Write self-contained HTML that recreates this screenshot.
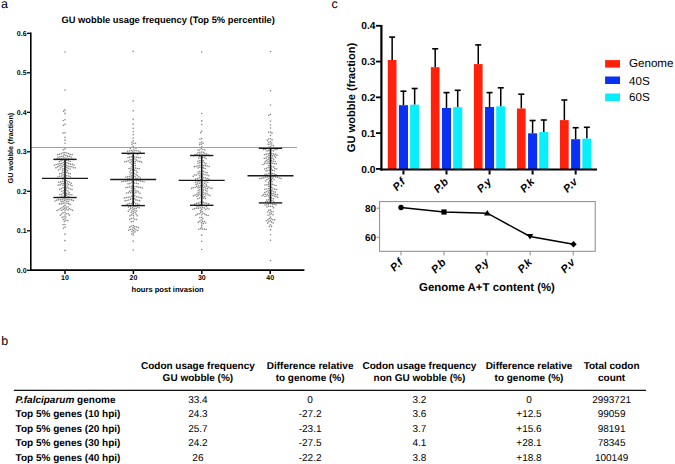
<!DOCTYPE html>
<html><head><meta charset="utf-8"><style>
html,body{margin:0;padding:0;background:#fff;width:675px;height:464px;overflow:hidden;}
svg{display:block;font-family:"Liberation Sans",sans-serif;text-rendering:geometricPrecision;}
</style></head><body>
<svg width="675" height="464" viewBox="0 0 675 464" font-family="Liberation Sans, sans-serif"><text x="1" y="8" font-size="12.5" text-anchor="start" fill="#000">a</text>
<text x="168.2" y="23.0" font-size="9.33" font-weight="bold" text-anchor="middle" fill="#000">GU wobble usage frequency (Top 5% percentile)</text>
<path d="M64.20 51.96a0.8 0.8 0 1 0 1.6 0a0.8 0.8 0 1 0 -1.6 0M64.20 90.05a0.8 0.8 0 1 0 1.6 0a0.8 0.8 0 1 0 -1.6 0M64.20 109.84a0.8 0.8 0 1 0 1.6 0a0.8 0.8 0 1 0 -1.6 0M62.85 111.17a0.8 0.8 0 1 0 1.6 0a0.8 0.8 0 1 0 -1.6 0M64.20 113.41a0.8 0.8 0 1 0 1.6 0a0.8 0.8 0 1 0 -1.6 0M64.20 119.77a0.8 0.8 0 1 0 1.6 0a0.8 0.8 0 1 0 -1.6 0M62.43 120.45a0.8 0.8 0 1 0 1.6 0a0.8 0.8 0 1 0 -1.6 0M64.20 124.31a0.8 0.8 0 1 0 1.6 0a0.8 0.8 0 1 0 -1.6 0M62.58 125.30a0.8 0.8 0 1 0 1.6 0a0.8 0.8 0 1 0 -1.6 0M64.20 132.83a0.8 0.8 0 1 0 1.6 0a0.8 0.8 0 1 0 -1.6 0M62.32 133.08a0.8 0.8 0 1 0 1.6 0a0.8 0.8 0 1 0 -1.6 0M64.20 137.34a0.8 0.8 0 1 0 1.6 0a0.8 0.8 0 1 0 -1.6 0M64.20 140.17a0.8 0.8 0 1 0 1.6 0a0.8 0.8 0 1 0 -1.6 0M64.20 143.25a0.8 0.8 0 1 0 1.6 0a0.8 0.8 0 1 0 -1.6 0M64.20 148.88a0.8 0.8 0 1 0 1.6 0a0.8 0.8 0 1 0 -1.6 0M62.48 149.69a0.8 0.8 0 1 0 1.6 0a0.8 0.8 0 1 0 -1.6 0M64.20 152.56a0.8 0.8 0 1 0 1.6 0a0.8 0.8 0 1 0 -1.6 0M62.31 152.74a0.8 0.8 0 1 0 1.6 0a0.8 0.8 0 1 0 -1.6 0M66.03 153.06a0.8 0.8 0 1 0 1.6 0a0.8 0.8 0 1 0 -1.6 0M60.59 153.56a0.8 0.8 0 1 0 1.6 0a0.8 0.8 0 1 0 -1.6 0M67.86 153.58a0.8 0.8 0 1 0 1.6 0a0.8 0.8 0 1 0 -1.6 0M58.81 154.22a0.8 0.8 0 1 0 1.6 0a0.8 0.8 0 1 0 -1.6 0M63.41 154.29a0.8 0.8 0 1 0 1.6 0a0.8 0.8 0 1 0 -1.6 0M69.50 154.54a0.8 0.8 0 1 0 1.6 0a0.8 0.8 0 1 0 -1.6 0M71.40 154.55a0.8 0.8 0 1 0 1.6 0a0.8 0.8 0 1 0 -1.6 0M56.97 154.67a0.8 0.8 0 1 0 1.6 0a0.8 0.8 0 1 0 -1.6 0M64.93 155.43a0.8 0.8 0 1 0 1.6 0a0.8 0.8 0 1 0 -1.6 0M62.82 156.09a0.8 0.8 0 1 0 1.6 0a0.8 0.8 0 1 0 -1.6 0M66.68 156.16a0.8 0.8 0 1 0 1.6 0a0.8 0.8 0 1 0 -1.6 0M60.92 156.22a0.8 0.8 0 1 0 1.6 0a0.8 0.8 0 1 0 -1.6 0M68.57 156.38a0.8 0.8 0 1 0 1.6 0a0.8 0.8 0 1 0 -1.6 0M59.11 156.79a0.8 0.8 0 1 0 1.6 0a0.8 0.8 0 1 0 -1.6 0M70.36 157.02a0.8 0.8 0 1 0 1.6 0a0.8 0.8 0 1 0 -1.6 0M57.25 157.18a0.8 0.8 0 1 0 1.6 0a0.8 0.8 0 1 0 -1.6 0M64.20 158.15a0.8 0.8 0 1 0 1.6 0a0.8 0.8 0 1 0 -1.6 0M62.30 158.16a0.8 0.8 0 1 0 1.6 0a0.8 0.8 0 1 0 -1.6 0M66.10 158.19a0.8 0.8 0 1 0 1.6 0a0.8 0.8 0 1 0 -1.6 0M60.44 158.57a0.8 0.8 0 1 0 1.6 0a0.8 0.8 0 1 0 -1.6 0M67.95 158.64a0.8 0.8 0 1 0 1.6 0a0.8 0.8 0 1 0 -1.6 0M58.55 158.77a0.8 0.8 0 1 0 1.6 0a0.8 0.8 0 1 0 -1.6 0M71.06 158.78a0.8 0.8 0 1 0 1.6 0a0.8 0.8 0 1 0 -1.6 0M56.37 158.87a0.8 0.8 0 1 0 1.6 0a0.8 0.8 0 1 0 -1.6 0M72.85 159.42a0.8 0.8 0 1 0 1.6 0a0.8 0.8 0 1 0 -1.6 0M54.60 159.55a0.8 0.8 0 1 0 1.6 0a0.8 0.8 0 1 0 -1.6 0M63.93 160.03a0.8 0.8 0 1 0 1.6 0a0.8 0.8 0 1 0 -1.6 0M62.03 160.06a0.8 0.8 0 1 0 1.6 0a0.8 0.8 0 1 0 -1.6 0M65.82 160.19a0.8 0.8 0 1 0 1.6 0a0.8 0.8 0 1 0 -1.6 0M67.63 160.77a0.8 0.8 0 1 0 1.6 0a0.8 0.8 0 1 0 -1.6 0M60.29 160.84a0.8 0.8 0 1 0 1.6 0a0.8 0.8 0 1 0 -1.6 0M69.41 161.44a0.8 0.8 0 1 0 1.6 0a0.8 0.8 0 1 0 -1.6 0M58.50 161.47a0.8 0.8 0 1 0 1.6 0a0.8 0.8 0 1 0 -1.6 0M64.38 161.87a0.8 0.8 0 1 0 1.6 0a0.8 0.8 0 1 0 -1.6 0M62.59 162.51a0.8 0.8 0 1 0 1.6 0a0.8 0.8 0 1 0 -1.6 0M66.11 162.66a0.8 0.8 0 1 0 1.6 0a0.8 0.8 0 1 0 -1.6 0M60.96 163.49a0.8 0.8 0 1 0 1.6 0a0.8 0.8 0 1 0 -1.6 0M67.80 163.53a0.8 0.8 0 1 0 1.6 0a0.8 0.8 0 1 0 -1.6 0M59.07 163.59a0.8 0.8 0 1 0 1.6 0a0.8 0.8 0 1 0 -1.6 0M64.20 163.83a0.8 0.8 0 1 0 1.6 0a0.8 0.8 0 1 0 -1.6 0M69.59 164.15a0.8 0.8 0 1 0 1.6 0a0.8 0.8 0 1 0 -1.6 0M57.26 164.17a0.8 0.8 0 1 0 1.6 0a0.8 0.8 0 1 0 -1.6 0M71.49 164.19a0.8 0.8 0 1 0 1.6 0a0.8 0.8 0 1 0 -1.6 0M55.38 164.46a0.8 0.8 0 1 0 1.6 0a0.8 0.8 0 1 0 -1.6 0M62.57 164.80a0.8 0.8 0 1 0 1.6 0a0.8 0.8 0 1 0 -1.6 0M65.64 165.07a0.8 0.8 0 1 0 1.6 0a0.8 0.8 0 1 0 -1.6 0M73.15 165.11a0.8 0.8 0 1 0 1.6 0a0.8 0.8 0 1 0 -1.6 0M60.17 165.21a0.8 0.8 0 1 0 1.6 0a0.8 0.8 0 1 0 -1.6 0M53.64 165.23a0.8 0.8 0 1 0 1.6 0a0.8 0.8 0 1 0 -1.6 0M67.33 165.93a0.8 0.8 0 1 0 1.6 0a0.8 0.8 0 1 0 -1.6 0M58.43 165.99a0.8 0.8 0 1 0 1.6 0a0.8 0.8 0 1 0 -1.6 0M64.20 166.39a0.8 0.8 0 1 0 1.6 0a0.8 0.8 0 1 0 -1.6 0M61.83 166.55a0.8 0.8 0 1 0 1.6 0a0.8 0.8 0 1 0 -1.6 0M69.11 166.60a0.8 0.8 0 1 0 1.6 0a0.8 0.8 0 1 0 -1.6 0M71.00 166.76a0.8 0.8 0 1 0 1.6 0a0.8 0.8 0 1 0 -1.6 0M56.77 166.90a0.8 0.8 0 1 0 1.6 0a0.8 0.8 0 1 0 -1.6 0M65.90 167.25a0.8 0.8 0 1 0 1.6 0a0.8 0.8 0 1 0 -1.6 0M60.09 167.31a0.8 0.8 0 1 0 1.6 0a0.8 0.8 0 1 0 -1.6 0M72.59 167.81a0.8 0.8 0 1 0 1.6 0a0.8 0.8 0 1 0 -1.6 0M55.11 167.84a0.8 0.8 0 1 0 1.6 0a0.8 0.8 0 1 0 -1.6 0M74.49 167.84a0.8 0.8 0 1 0 1.6 0a0.8 0.8 0 1 0 -1.6 0M63.70 168.22a0.8 0.8 0 1 0 1.6 0a0.8 0.8 0 1 0 -1.6 0M67.47 168.32a0.8 0.8 0 1 0 1.6 0a0.8 0.8 0 1 0 -1.6 0M61.87 168.72a0.8 0.8 0 1 0 1.6 0a0.8 0.8 0 1 0 -1.6 0M69.26 168.93a0.8 0.8 0 1 0 1.6 0a0.8 0.8 0 1 0 -1.6 0M59.35 169.06a0.8 0.8 0 1 0 1.6 0a0.8 0.8 0 1 0 -1.6 0M65.17 169.42a0.8 0.8 0 1 0 1.6 0a0.8 0.8 0 1 0 -1.6 0M57.67 169.93a0.8 0.8 0 1 0 1.6 0a0.8 0.8 0 1 0 -1.6 0M63.40 170.10a0.8 0.8 0 1 0 1.6 0a0.8 0.8 0 1 0 -1.6 0M66.69 170.56a0.8 0.8 0 1 0 1.6 0a0.8 0.8 0 1 0 -1.6 0M61.61 170.73a0.8 0.8 0 1 0 1.6 0a0.8 0.8 0 1 0 -1.6 0M64.20 172.09a0.8 0.8 0 1 0 1.6 0a0.8 0.8 0 1 0 -1.6 0M66.08 172.40a0.8 0.8 0 1 0 1.6 0a0.8 0.8 0 1 0 -1.6 0M62.35 172.54a0.8 0.8 0 1 0 1.6 0a0.8 0.8 0 1 0 -1.6 0M67.79 173.22a0.8 0.8 0 1 0 1.6 0a0.8 0.8 0 1 0 -1.6 0M60.76 173.58a0.8 0.8 0 1 0 1.6 0a0.8 0.8 0 1 0 -1.6 0M58.87 173.72a0.8 0.8 0 1 0 1.6 0a0.8 0.8 0 1 0 -1.6 0M69.58 173.86a0.8 0.8 0 1 0 1.6 0a0.8 0.8 0 1 0 -1.6 0M64.20 174.80a0.8 0.8 0 1 0 1.6 0a0.8 0.8 0 1 0 -1.6 0M62.30 174.83a0.8 0.8 0 1 0 1.6 0a0.8 0.8 0 1 0 -1.6 0M65.87 175.71a0.8 0.8 0 1 0 1.6 0a0.8 0.8 0 1 0 -1.6 0M60.76 175.95a0.8 0.8 0 1 0 1.6 0a0.8 0.8 0 1 0 -1.6 0M67.74 176.03a0.8 0.8 0 1 0 1.6 0a0.8 0.8 0 1 0 -1.6 0M58.90 176.29a0.8 0.8 0 1 0 1.6 0a0.8 0.8 0 1 0 -1.6 0M63.32 176.48a0.8 0.8 0 1 0 1.6 0a0.8 0.8 0 1 0 -1.6 0M69.48 176.79a0.8 0.8 0 1 0 1.6 0a0.8 0.8 0 1 0 -1.6 0M57.16 177.07a0.8 0.8 0 1 0 1.6 0a0.8 0.8 0 1 0 -1.6 0M64.84 177.63a0.8 0.8 0 1 0 1.6 0a0.8 0.8 0 1 0 -1.6 0M61.86 177.70a0.8 0.8 0 1 0 1.6 0a0.8 0.8 0 1 0 -1.6 0M66.56 178.44a0.8 0.8 0 1 0 1.6 0a0.8 0.8 0 1 0 -1.6 0M63.99 179.33a0.8 0.8 0 1 0 1.6 0a0.8 0.8 0 1 0 -1.6 0M62.14 179.76a0.8 0.8 0 1 0 1.6 0a0.8 0.8 0 1 0 -1.6 0M65.43 180.57a0.8 0.8 0 1 0 1.6 0a0.8 0.8 0 1 0 -1.6 0M63.57 181.18a0.8 0.8 0 1 0 1.6 0a0.8 0.8 0 1 0 -1.6 0M67.23 181.19a0.8 0.8 0 1 0 1.6 0a0.8 0.8 0 1 0 -1.6 0M61.76 181.78a0.8 0.8 0 1 0 1.6 0a0.8 0.8 0 1 0 -1.6 0M59.86 181.89a0.8 0.8 0 1 0 1.6 0a0.8 0.8 0 1 0 -1.6 0M68.79 182.26a0.8 0.8 0 1 0 1.6 0a0.8 0.8 0 1 0 -1.6 0M58.02 182.34a0.8 0.8 0 1 0 1.6 0a0.8 0.8 0 1 0 -1.6 0M64.39 182.90a0.8 0.8 0 1 0 1.6 0a0.8 0.8 0 1 0 -1.6 0M66.27 183.12a0.8 0.8 0 1 0 1.6 0a0.8 0.8 0 1 0 -1.6 0M70.43 183.22a0.8 0.8 0 1 0 1.6 0a0.8 0.8 0 1 0 -1.6 0M62.67 183.72a0.8 0.8 0 1 0 1.6 0a0.8 0.8 0 1 0 -1.6 0M60.77 183.78a0.8 0.8 0 1 0 1.6 0a0.8 0.8 0 1 0 -1.6 0M67.66 184.42a0.8 0.8 0 1 0 1.6 0a0.8 0.8 0 1 0 -1.6 0M64.89 184.73a0.8 0.8 0 1 0 1.6 0a0.8 0.8 0 1 0 -1.6 0M59.25 184.92a0.8 0.8 0 1 0 1.6 0a0.8 0.8 0 1 0 -1.6 0M69.47 184.99a0.8 0.8 0 1 0 1.6 0a0.8 0.8 0 1 0 -1.6 0M57.36 185.08a0.8 0.8 0 1 0 1.6 0a0.8 0.8 0 1 0 -1.6 0M62.15 185.55a0.8 0.8 0 1 0 1.6 0a0.8 0.8 0 1 0 -1.6 0M71.24 185.68a0.8 0.8 0 1 0 1.6 0a0.8 0.8 0 1 0 -1.6 0M66.36 185.94a0.8 0.8 0 1 0 1.6 0a0.8 0.8 0 1 0 -1.6 0M64.20 187.27a0.8 0.8 0 1 0 1.6 0a0.8 0.8 0 1 0 -1.6 0M62.35 187.71a0.8 0.8 0 1 0 1.6 0a0.8 0.8 0 1 0 -1.6 0M66.00 187.88a0.8 0.8 0 1 0 1.6 0a0.8 0.8 0 1 0 -1.6 0M67.89 188.03a0.8 0.8 0 1 0 1.6 0a0.8 0.8 0 1 0 -1.6 0M60.68 188.61a0.8 0.8 0 1 0 1.6 0a0.8 0.8 0 1 0 -1.6 0M69.48 189.08a0.8 0.8 0 1 0 1.6 0a0.8 0.8 0 1 0 -1.6 0M63.89 189.14a0.8 0.8 0 1 0 1.6 0a0.8 0.8 0 1 0 -1.6 0M58.94 189.38a0.8 0.8 0 1 0 1.6 0a0.8 0.8 0 1 0 -1.6 0M71.33 189.49a0.8 0.8 0 1 0 1.6 0a0.8 0.8 0 1 0 -1.6 0M65.36 190.35a0.8 0.8 0 1 0 1.6 0a0.8 0.8 0 1 0 -1.6 0M62.85 190.73a0.8 0.8 0 1 0 1.6 0a0.8 0.8 0 1 0 -1.6 0M67.14 191.02a0.8 0.8 0 1 0 1.6 0a0.8 0.8 0 1 0 -1.6 0M61.03 191.29a0.8 0.8 0 1 0 1.6 0a0.8 0.8 0 1 0 -1.6 0M64.20 192.14a0.8 0.8 0 1 0 1.6 0a0.8 0.8 0 1 0 -1.6 0M68.40 192.44a0.8 0.8 0 1 0 1.6 0a0.8 0.8 0 1 0 -1.6 0M62.56 193.10a0.8 0.8 0 1 0 1.6 0a0.8 0.8 0 1 0 -1.6 0M65.65 193.37a0.8 0.8 0 1 0 1.6 0a0.8 0.8 0 1 0 -1.6 0M67.39 194.13a0.8 0.8 0 1 0 1.6 0a0.8 0.8 0 1 0 -1.6 0M61.04 194.24a0.8 0.8 0 1 0 1.6 0a0.8 0.8 0 1 0 -1.6 0M64.07 194.43a0.8 0.8 0 1 0 1.6 0a0.8 0.8 0 1 0 -1.6 0M59.15 194.46a0.8 0.8 0 1 0 1.6 0a0.8 0.8 0 1 0 -1.6 0M69.20 194.70a0.8 0.8 0 1 0 1.6 0a0.8 0.8 0 1 0 -1.6 0M71.10 194.79a0.8 0.8 0 1 0 1.6 0a0.8 0.8 0 1 0 -1.6 0M65.73 195.35a0.8 0.8 0 1 0 1.6 0a0.8 0.8 0 1 0 -1.6 0M63.11 196.07a0.8 0.8 0 1 0 1.6 0a0.8 0.8 0 1 0 -1.6 0M61.21 196.19a0.8 0.8 0 1 0 1.6 0a0.8 0.8 0 1 0 -1.6 0M67.26 196.47a0.8 0.8 0 1 0 1.6 0a0.8 0.8 0 1 0 -1.6 0M64.58 197.28a0.8 0.8 0 1 0 1.6 0a0.8 0.8 0 1 0 -1.6 0M59.72 197.36a0.8 0.8 0 1 0 1.6 0a0.8 0.8 0 1 0 -1.6 0M68.94 197.36a0.8 0.8 0 1 0 1.6 0a0.8 0.8 0 1 0 -1.6 0M57.84 197.69a0.8 0.8 0 1 0 1.6 0a0.8 0.8 0 1 0 -1.6 0M63.38 198.75a0.8 0.8 0 1 0 1.6 0a0.8 0.8 0 1 0 -1.6 0M65.22 199.20a0.8 0.8 0 1 0 1.6 0a0.8 0.8 0 1 0 -1.6 0M61.66 199.57a0.8 0.8 0 1 0 1.6 0a0.8 0.8 0 1 0 -1.6 0M67.08 199.62a0.8 0.8 0 1 0 1.6 0a0.8 0.8 0 1 0 -1.6 0M59.77 199.78a0.8 0.8 0 1 0 1.6 0a0.8 0.8 0 1 0 -1.6 0M68.97 199.78a0.8 0.8 0 1 0 1.6 0a0.8 0.8 0 1 0 -1.6 0M57.87 199.84a0.8 0.8 0 1 0 1.6 0a0.8 0.8 0 1 0 -1.6 0M70.87 199.88a0.8 0.8 0 1 0 1.6 0a0.8 0.8 0 1 0 -1.6 0M56.00 200.16a0.8 0.8 0 1 0 1.6 0a0.8 0.8 0 1 0 -1.6 0M63.93 200.59a0.8 0.8 0 1 0 1.6 0a0.8 0.8 0 1 0 -1.6 0M72.62 200.60a0.8 0.8 0 1 0 1.6 0a0.8 0.8 0 1 0 -1.6 0M54.30 201.01a0.8 0.8 0 1 0 1.6 0a0.8 0.8 0 1 0 -1.6 0M65.69 201.30a0.8 0.8 0 1 0 1.6 0a0.8 0.8 0 1 0 -1.6 0M62.21 201.39a0.8 0.8 0 1 0 1.6 0a0.8 0.8 0 1 0 -1.6 0M67.59 201.47a0.8 0.8 0 1 0 1.6 0a0.8 0.8 0 1 0 -1.6 0M60.32 201.63a0.8 0.8 0 1 0 1.6 0a0.8 0.8 0 1 0 -1.6 0M64.20 203.08a0.8 0.8 0 1 0 1.6 0a0.8 0.8 0 1 0 -1.6 0M66.10 203.20a0.8 0.8 0 1 0 1.6 0a0.8 0.8 0 1 0 -1.6 0M62.32 203.38a0.8 0.8 0 1 0 1.6 0a0.8 0.8 0 1 0 -1.6 0M67.94 203.66a0.8 0.8 0 1 0 1.6 0a0.8 0.8 0 1 0 -1.6 0M60.49 203.89a0.8 0.8 0 1 0 1.6 0a0.8 0.8 0 1 0 -1.6 0M58.59 203.90a0.8 0.8 0 1 0 1.6 0a0.8 0.8 0 1 0 -1.6 0M69.50 204.75a0.8 0.8 0 1 0 1.6 0a0.8 0.8 0 1 0 -1.6 0M64.20 205.42a0.8 0.8 0 1 0 1.6 0a0.8 0.8 0 1 0 -1.6 0M62.71 206.60a0.8 0.8 0 1 0 1.6 0a0.8 0.8 0 1 0 -1.6 0M65.36 206.93a0.8 0.8 0 1 0 1.6 0a0.8 0.8 0 1 0 -1.6 0M67.26 207.07a0.8 0.8 0 1 0 1.6 0a0.8 0.8 0 1 0 -1.6 0M61.18 207.72a0.8 0.8 0 1 0 1.6 0a0.8 0.8 0 1 0 -1.6 0M63.92 208.17a0.8 0.8 0 1 0 1.6 0a0.8 0.8 0 1 0 -1.6 0M68.58 208.44a0.8 0.8 0 1 0 1.6 0a0.8 0.8 0 1 0 -1.6 0M59.47 208.57a0.8 0.8 0 1 0 1.6 0a0.8 0.8 0 1 0 -1.6 0M65.61 209.03a0.8 0.8 0 1 0 1.6 0a0.8 0.8 0 1 0 -1.6 0M62.43 209.35a0.8 0.8 0 1 0 1.6 0a0.8 0.8 0 1 0 -1.6 0M70.09 209.59a0.8 0.8 0 1 0 1.6 0a0.8 0.8 0 1 0 -1.6 0M57.96 209.72a0.8 0.8 0 1 0 1.6 0a0.8 0.8 0 1 0 -1.6 0M67.31 209.89a0.8 0.8 0 1 0 1.6 0a0.8 0.8 0 1 0 -1.6 0M64.20 210.31a0.8 0.8 0 1 0 1.6 0a0.8 0.8 0 1 0 -1.6 0M60.80 210.32a0.8 0.8 0 1 0 1.6 0a0.8 0.8 0 1 0 -1.6 0M71.83 210.35a0.8 0.8 0 1 0 1.6 0a0.8 0.8 0 1 0 -1.6 0M56.25 210.54a0.8 0.8 0 1 0 1.6 0a0.8 0.8 0 1 0 -1.6 0M64.20 212.33a0.8 0.8 0 1 0 1.6 0a0.8 0.8 0 1 0 -1.6 0M62.34 212.73a0.8 0.8 0 1 0 1.6 0a0.8 0.8 0 1 0 -1.6 0M65.53 213.69a0.8 0.8 0 1 0 1.6 0a0.8 0.8 0 1 0 -1.6 0M67.43 213.73a0.8 0.8 0 1 0 1.6 0a0.8 0.8 0 1 0 -1.6 0M60.90 213.97a0.8 0.8 0 1 0 1.6 0a0.8 0.8 0 1 0 -1.6 0M64.20 215.06a0.8 0.8 0 1 0 1.6 0a0.8 0.8 0 1 0 -1.6 0M68.67 215.16a0.8 0.8 0 1 0 1.6 0a0.8 0.8 0 1 0 -1.6 0M59.47 215.22a0.8 0.8 0 1 0 1.6 0a0.8 0.8 0 1 0 -1.6 0M63.24 216.70a0.8 0.8 0 1 0 1.6 0a0.8 0.8 0 1 0 -1.6 0M65.12 216.99a0.8 0.8 0 1 0 1.6 0a0.8 0.8 0 1 0 -1.6 0M61.48 217.42a0.8 0.8 0 1 0 1.6 0a0.8 0.8 0 1 0 -1.6 0M64.20 218.72a0.8 0.8 0 1 0 1.6 0a0.8 0.8 0 1 0 -1.6 0M62.46 219.48a0.8 0.8 0 1 0 1.6 0a0.8 0.8 0 1 0 -1.6 0M65.18 220.34a0.8 0.8 0 1 0 1.6 0a0.8 0.8 0 1 0 -1.6 0M67.08 220.47a0.8 0.8 0 1 0 1.6 0a0.8 0.8 0 1 0 -1.6 0M63.61 221.41a0.8 0.8 0 1 0 1.6 0a0.8 0.8 0 1 0 -1.6 0M64.20 224.56a0.8 0.8 0 1 0 1.6 0a0.8 0.8 0 1 0 -1.6 0M62.31 224.71a0.8 0.8 0 1 0 1.6 0a0.8 0.8 0 1 0 -1.6 0M64.20 227.11a0.8 0.8 0 1 0 1.6 0a0.8 0.8 0 1 0 -1.6 0M62.71 228.29a0.8 0.8 0 1 0 1.6 0a0.8 0.8 0 1 0 -1.6 0M64.20 234.15a0.8 0.8 0 1 0 1.6 0a0.8 0.8 0 1 0 -1.6 0M64.20 240.63a0.8 0.8 0 1 0 1.6 0a0.8 0.8 0 1 0 -1.6 0M64.20 250.39a0.8 0.8 0 1 0 1.6 0a0.8 0.8 0 1 0 -1.6 0M132.40 51.31a0.8 0.8 0 1 0 1.6 0a0.8 0.8 0 1 0 -1.6 0M132.40 101.00a0.8 0.8 0 1 0 1.6 0a0.8 0.8 0 1 0 -1.6 0M132.40 110.87a0.8 0.8 0 1 0 1.6 0a0.8 0.8 0 1 0 -1.6 0M132.40 119.28a0.8 0.8 0 1 0 1.6 0a0.8 0.8 0 1 0 -1.6 0M132.40 124.17a0.8 0.8 0 1 0 1.6 0a0.8 0.8 0 1 0 -1.6 0M132.40 128.36a0.8 0.8 0 1 0 1.6 0a0.8 0.8 0 1 0 -1.6 0M132.40 131.82a0.8 0.8 0 1 0 1.6 0a0.8 0.8 0 1 0 -1.6 0M132.40 134.74a0.8 0.8 0 1 0 1.6 0a0.8 0.8 0 1 0 -1.6 0M132.40 137.96a0.8 0.8 0 1 0 1.6 0a0.8 0.8 0 1 0 -1.6 0M132.40 140.82a0.8 0.8 0 1 0 1.6 0a0.8 0.8 0 1 0 -1.6 0M131.21 142.30a0.8 0.8 0 1 0 1.6 0a0.8 0.8 0 1 0 -1.6 0M132.83 143.30a0.8 0.8 0 1 0 1.6 0a0.8 0.8 0 1 0 -1.6 0M134.73 143.31a0.8 0.8 0 1 0 1.6 0a0.8 0.8 0 1 0 -1.6 0M131.20 144.27a0.8 0.8 0 1 0 1.6 0a0.8 0.8 0 1 0 -1.6 0M132.40 146.24a0.8 0.8 0 1 0 1.6 0a0.8 0.8 0 1 0 -1.6 0M130.84 147.32a0.8 0.8 0 1 0 1.6 0a0.8 0.8 0 1 0 -1.6 0M133.35 147.88a0.8 0.8 0 1 0 1.6 0a0.8 0.8 0 1 0 -1.6 0M135.22 148.24a0.8 0.8 0 1 0 1.6 0a0.8 0.8 0 1 0 -1.6 0M129.42 148.58a0.8 0.8 0 1 0 1.6 0a0.8 0.8 0 1 0 -1.6 0M132.40 149.95a0.8 0.8 0 1 0 1.6 0a0.8 0.8 0 1 0 -1.6 0M130.57 150.45a0.8 0.8 0 1 0 1.6 0a0.8 0.8 0 1 0 -1.6 0M134.16 150.67a0.8 0.8 0 1 0 1.6 0a0.8 0.8 0 1 0 -1.6 0M136.05 150.79a0.8 0.8 0 1 0 1.6 0a0.8 0.8 0 1 0 -1.6 0M128.74 150.97a0.8 0.8 0 1 0 1.6 0a0.8 0.8 0 1 0 -1.6 0M137.94 151.01a0.8 0.8 0 1 0 1.6 0a0.8 0.8 0 1 0 -1.6 0M126.85 151.20a0.8 0.8 0 1 0 1.6 0a0.8 0.8 0 1 0 -1.6 0M131.98 151.80a0.8 0.8 0 1 0 1.6 0a0.8 0.8 0 1 0 -1.6 0M139.48 152.13a0.8 0.8 0 1 0 1.6 0a0.8 0.8 0 1 0 -1.6 0M133.30 153.16a0.8 0.8 0 1 0 1.6 0a0.8 0.8 0 1 0 -1.6 0M130.78 153.27a0.8 0.8 0 1 0 1.6 0a0.8 0.8 0 1 0 -1.6 0M135.09 153.80a0.8 0.8 0 1 0 1.6 0a0.8 0.8 0 1 0 -1.6 0M129.17 154.29a0.8 0.8 0 1 0 1.6 0a0.8 0.8 0 1 0 -1.6 0M136.87 154.49a0.8 0.8 0 1 0 1.6 0a0.8 0.8 0 1 0 -1.6 0M127.29 154.56a0.8 0.8 0 1 0 1.6 0a0.8 0.8 0 1 0 -1.6 0M132.40 155.62a0.8 0.8 0 1 0 1.6 0a0.8 0.8 0 1 0 -1.6 0M130.84 156.70a0.8 0.8 0 1 0 1.6 0a0.8 0.8 0 1 0 -1.6 0M133.76 156.96a0.8 0.8 0 1 0 1.6 0a0.8 0.8 0 1 0 -1.6 0M135.65 157.11a0.8 0.8 0 1 0 1.6 0a0.8 0.8 0 1 0 -1.6 0M128.99 157.13a0.8 0.8 0 1 0 1.6 0a0.8 0.8 0 1 0 -1.6 0M137.51 157.49a0.8 0.8 0 1 0 1.6 0a0.8 0.8 0 1 0 -1.6 0M127.20 157.77a0.8 0.8 0 1 0 1.6 0a0.8 0.8 0 1 0 -1.6 0M139.39 157.79a0.8 0.8 0 1 0 1.6 0a0.8 0.8 0 1 0 -1.6 0M132.38 158.27a0.8 0.8 0 1 0 1.6 0a0.8 0.8 0 1 0 -1.6 0M134.16 158.93a0.8 0.8 0 1 0 1.6 0a0.8 0.8 0 1 0 -1.6 0M131.16 159.73a0.8 0.8 0 1 0 1.6 0a0.8 0.8 0 1 0 -1.6 0M129.30 160.07a0.8 0.8 0 1 0 1.6 0a0.8 0.8 0 1 0 -1.6 0M135.66 160.10a0.8 0.8 0 1 0 1.6 0a0.8 0.8 0 1 0 -1.6 0M132.70 160.84a0.8 0.8 0 1 0 1.6 0a0.8 0.8 0 1 0 -1.6 0M127.64 161.00a0.8 0.8 0 1 0 1.6 0a0.8 0.8 0 1 0 -1.6 0M137.19 161.22a0.8 0.8 0 1 0 1.6 0a0.8 0.8 0 1 0 -1.6 0M125.76 161.32a0.8 0.8 0 1 0 1.6 0a0.8 0.8 0 1 0 -1.6 0M139.08 161.42a0.8 0.8 0 1 0 1.6 0a0.8 0.8 0 1 0 -1.6 0M130.96 161.62a0.8 0.8 0 1 0 1.6 0a0.8 0.8 0 1 0 -1.6 0M134.42 161.66a0.8 0.8 0 1 0 1.6 0a0.8 0.8 0 1 0 -1.6 0M123.94 161.86a0.8 0.8 0 1 0 1.6 0a0.8 0.8 0 1 0 -1.6 0M140.83 162.16a0.8 0.8 0 1 0 1.6 0a0.8 0.8 0 1 0 -1.6 0M129.37 162.65a0.8 0.8 0 1 0 1.6 0a0.8 0.8 0 1 0 -1.6 0M132.40 163.00a0.8 0.8 0 1 0 1.6 0a0.8 0.8 0 1 0 -1.6 0M134.20 163.62a0.8 0.8 0 1 0 1.6 0a0.8 0.8 0 1 0 -1.6 0M131.12 164.41a0.8 0.8 0 1 0 1.6 0a0.8 0.8 0 1 0 -1.6 0M132.65 165.53a0.8 0.8 0 1 0 1.6 0a0.8 0.8 0 1 0 -1.6 0M134.54 165.72a0.8 0.8 0 1 0 1.6 0a0.8 0.8 0 1 0 -1.6 0M131.23 166.80a0.8 0.8 0 1 0 1.6 0a0.8 0.8 0 1 0 -1.6 0M132.75 167.93a0.8 0.8 0 1 0 1.6 0a0.8 0.8 0 1 0 -1.6 0M134.65 168.10a0.8 0.8 0 1 0 1.6 0a0.8 0.8 0 1 0 -1.6 0M130.09 168.32a0.8 0.8 0 1 0 1.6 0a0.8 0.8 0 1 0 -1.6 0M136.52 168.43a0.8 0.8 0 1 0 1.6 0a0.8 0.8 0 1 0 -1.6 0M128.22 168.62a0.8 0.8 0 1 0 1.6 0a0.8 0.8 0 1 0 -1.6 0M138.40 168.72a0.8 0.8 0 1 0 1.6 0a0.8 0.8 0 1 0 -1.6 0M131.68 169.50a0.8 0.8 0 1 0 1.6 0a0.8 0.8 0 1 0 -1.6 0M133.47 170.15a0.8 0.8 0 1 0 1.6 0a0.8 0.8 0 1 0 -1.6 0M129.96 170.31a0.8 0.8 0 1 0 1.6 0a0.8 0.8 0 1 0 -1.6 0M135.27 170.73a0.8 0.8 0 1 0 1.6 0a0.8 0.8 0 1 0 -1.6 0M132.40 171.96a0.8 0.8 0 1 0 1.6 0a0.8 0.8 0 1 0 -1.6 0M129.13 172.02a0.8 0.8 0 1 0 1.6 0a0.8 0.8 0 1 0 -1.6 0M136.36 172.29a0.8 0.8 0 1 0 1.6 0a0.8 0.8 0 1 0 -1.6 0M130.83 173.03a0.8 0.8 0 1 0 1.6 0a0.8 0.8 0 1 0 -1.6 0M133.57 173.46a0.8 0.8 0 1 0 1.6 0a0.8 0.8 0 1 0 -1.6 0M135.30 174.23a0.8 0.8 0 1 0 1.6 0a0.8 0.8 0 1 0 -1.6 0M129.38 174.25a0.8 0.8 0 1 0 1.6 0a0.8 0.8 0 1 0 -1.6 0M132.40 175.45a0.8 0.8 0 1 0 1.6 0a0.8 0.8 0 1 0 -1.6 0M136.58 175.64a0.8 0.8 0 1 0 1.6 0a0.8 0.8 0 1 0 -1.6 0M130.55 175.89a0.8 0.8 0 1 0 1.6 0a0.8 0.8 0 1 0 -1.6 0M134.14 176.22a0.8 0.8 0 1 0 1.6 0a0.8 0.8 0 1 0 -1.6 0M128.78 176.58a0.8 0.8 0 1 0 1.6 0a0.8 0.8 0 1 0 -1.6 0M126.88 176.65a0.8 0.8 0 1 0 1.6 0a0.8 0.8 0 1 0 -1.6 0M138.14 176.73a0.8 0.8 0 1 0 1.6 0a0.8 0.8 0 1 0 -1.6 0M125.09 177.26a0.8 0.8 0 1 0 1.6 0a0.8 0.8 0 1 0 -1.6 0M132.40 177.77a0.8 0.8 0 1 0 1.6 0a0.8 0.8 0 1 0 -1.6 0M130.50 177.83a0.8 0.8 0 1 0 1.6 0a0.8 0.8 0 1 0 -1.6 0M134.93 177.95a0.8 0.8 0 1 0 1.6 0a0.8 0.8 0 1 0 -1.6 0M139.51 178.03a0.8 0.8 0 1 0 1.6 0a0.8 0.8 0 1 0 -1.6 0M128.81 178.69a0.8 0.8 0 1 0 1.6 0a0.8 0.8 0 1 0 -1.6 0M136.57 178.91a0.8 0.8 0 1 0 1.6 0a0.8 0.8 0 1 0 -1.6 0M126.93 179.00a0.8 0.8 0 1 0 1.6 0a0.8 0.8 0 1 0 -1.6 0M132.05 179.64a0.8 0.8 0 1 0 1.6 0a0.8 0.8 0 1 0 -1.6 0M133.90 180.08a0.8 0.8 0 1 0 1.6 0a0.8 0.8 0 1 0 -1.6 0M130.32 180.42a0.8 0.8 0 1 0 1.6 0a0.8 0.8 0 1 0 -1.6 0M137.68 180.45a0.8 0.8 0 1 0 1.6 0a0.8 0.8 0 1 0 -1.6 0M135.70 180.68a0.8 0.8 0 1 0 1.6 0a0.8 0.8 0 1 0 -1.6 0M128.46 180.82a0.8 0.8 0 1 0 1.6 0a0.8 0.8 0 1 0 -1.6 0M126.56 180.91a0.8 0.8 0 1 0 1.6 0a0.8 0.8 0 1 0 -1.6 0M139.48 181.06a0.8 0.8 0 1 0 1.6 0a0.8 0.8 0 1 0 -1.6 0M124.69 181.22a0.8 0.8 0 1 0 1.6 0a0.8 0.8 0 1 0 -1.6 0M141.37 181.24a0.8 0.8 0 1 0 1.6 0a0.8 0.8 0 1 0 -1.6 0M122.79 181.28a0.8 0.8 0 1 0 1.6 0a0.8 0.8 0 1 0 -1.6 0M132.40 181.61a0.8 0.8 0 1 0 1.6 0a0.8 0.8 0 1 0 -1.6 0M143.22 181.68a0.8 0.8 0 1 0 1.6 0a0.8 0.8 0 1 0 -1.6 0M120.96 181.78a0.8 0.8 0 1 0 1.6 0a0.8 0.8 0 1 0 -1.6 0M130.71 182.48a0.8 0.8 0 1 0 1.6 0a0.8 0.8 0 1 0 -1.6 0M133.63 183.07a0.8 0.8 0 1 0 1.6 0a0.8 0.8 0 1 0 -1.6 0M135.52 183.24a0.8 0.8 0 1 0 1.6 0a0.8 0.8 0 1 0 -1.6 0M129.17 183.60a0.8 0.8 0 1 0 1.6 0a0.8 0.8 0 1 0 -1.6 0M137.36 183.71a0.8 0.8 0 1 0 1.6 0a0.8 0.8 0 1 0 -1.6 0M127.29 183.85a0.8 0.8 0 1 0 1.6 0a0.8 0.8 0 1 0 -1.6 0M132.40 185.80a0.8 0.8 0 1 0 1.6 0a0.8 0.8 0 1 0 -1.6 0M130.58 186.35a0.8 0.8 0 1 0 1.6 0a0.8 0.8 0 1 0 -1.6 0M134.14 186.56a0.8 0.8 0 1 0 1.6 0a0.8 0.8 0 1 0 -1.6 0M136.04 186.67a0.8 0.8 0 1 0 1.6 0a0.8 0.8 0 1 0 -1.6 0M128.80 187.02a0.8 0.8 0 1 0 1.6 0a0.8 0.8 0 1 0 -1.6 0M137.85 187.24a0.8 0.8 0 1 0 1.6 0a0.8 0.8 0 1 0 -1.6 0M126.92 187.29a0.8 0.8 0 1 0 1.6 0a0.8 0.8 0 1 0 -1.6 0M139.75 187.37a0.8 0.8 0 1 0 1.6 0a0.8 0.8 0 1 0 -1.6 0M132.40 187.80a0.8 0.8 0 1 0 1.6 0a0.8 0.8 0 1 0 -1.6 0M125.10 187.82a0.8 0.8 0 1 0 1.6 0a0.8 0.8 0 1 0 -1.6 0M141.54 187.99a0.8 0.8 0 1 0 1.6 0a0.8 0.8 0 1 0 -1.6 0M130.67 188.57a0.8 0.8 0 1 0 1.6 0a0.8 0.8 0 1 0 -1.6 0M134.02 188.80a0.8 0.8 0 1 0 1.6 0a0.8 0.8 0 1 0 -1.6 0M132.40 190.57a0.8 0.8 0 1 0 1.6 0a0.8 0.8 0 1 0 -1.6 0M130.51 190.73a0.8 0.8 0 1 0 1.6 0a0.8 0.8 0 1 0 -1.6 0M134.28 190.87a0.8 0.8 0 1 0 1.6 0a0.8 0.8 0 1 0 -1.6 0M136.17 190.97a0.8 0.8 0 1 0 1.6 0a0.8 0.8 0 1 0 -1.6 0M128.71 191.35a0.8 0.8 0 1 0 1.6 0a0.8 0.8 0 1 0 -1.6 0M137.75 192.03a0.8 0.8 0 1 0 1.6 0a0.8 0.8 0 1 0 -1.6 0M131.76 192.36a0.8 0.8 0 1 0 1.6 0a0.8 0.8 0 1 0 -1.6 0M135.11 192.58a0.8 0.8 0 1 0 1.6 0a0.8 0.8 0 1 0 -1.6 0M129.92 192.83a0.8 0.8 0 1 0 1.6 0a0.8 0.8 0 1 0 -1.6 0M127.56 192.86a0.8 0.8 0 1 0 1.6 0a0.8 0.8 0 1 0 -1.6 0M125.66 192.93a0.8 0.8 0 1 0 1.6 0a0.8 0.8 0 1 0 -1.6 0M139.21 193.25a0.8 0.8 0 1 0 1.6 0a0.8 0.8 0 1 0 -1.6 0M133.37 193.37a0.8 0.8 0 1 0 1.6 0a0.8 0.8 0 1 0 -1.6 0M132.24 194.90a0.8 0.8 0 1 0 1.6 0a0.8 0.8 0 1 0 -1.6 0M134.00 195.62a0.8 0.8 0 1 0 1.6 0a0.8 0.8 0 1 0 -1.6 0M130.95 196.29a0.8 0.8 0 1 0 1.6 0a0.8 0.8 0 1 0 -1.6 0M135.48 196.81a0.8 0.8 0 1 0 1.6 0a0.8 0.8 0 1 0 -1.6 0M129.18 196.98a0.8 0.8 0 1 0 1.6 0a0.8 0.8 0 1 0 -1.6 0M132.70 197.03a0.8 0.8 0 1 0 1.6 0a0.8 0.8 0 1 0 -1.6 0M137.37 197.05a0.8 0.8 0 1 0 1.6 0a0.8 0.8 0 1 0 -1.6 0M127.31 197.35a0.8 0.8 0 1 0 1.6 0a0.8 0.8 0 1 0 -1.6 0M139.20 197.53a0.8 0.8 0 1 0 1.6 0a0.8 0.8 0 1 0 -1.6 0M125.43 197.60a0.8 0.8 0 1 0 1.6 0a0.8 0.8 0 1 0 -1.6 0M141.05 197.99a0.8 0.8 0 1 0 1.6 0a0.8 0.8 0 1 0 -1.6 0M123.59 198.09a0.8 0.8 0 1 0 1.6 0a0.8 0.8 0 1 0 -1.6 0M131.48 198.49a0.8 0.8 0 1 0 1.6 0a0.8 0.8 0 1 0 -1.6 0M133.69 198.65a0.8 0.8 0 1 0 1.6 0a0.8 0.8 0 1 0 -1.6 0M129.78 199.33a0.8 0.8 0 1 0 1.6 0a0.8 0.8 0 1 0 -1.6 0M135.12 199.90a0.8 0.8 0 1 0 1.6 0a0.8 0.8 0 1 0 -1.6 0M127.98 199.95a0.8 0.8 0 1 0 1.6 0a0.8 0.8 0 1 0 -1.6 0M132.40 200.17a0.8 0.8 0 1 0 1.6 0a0.8 0.8 0 1 0 -1.6 0M136.99 200.27a0.8 0.8 0 1 0 1.6 0a0.8 0.8 0 1 0 -1.6 0M126.20 200.60a0.8 0.8 0 1 0 1.6 0a0.8 0.8 0 1 0 -1.6 0M138.85 200.63a0.8 0.8 0 1 0 1.6 0a0.8 0.8 0 1 0 -1.6 0M124.32 200.90a0.8 0.8 0 1 0 1.6 0a0.8 0.8 0 1 0 -1.6 0M131.69 201.93a0.8 0.8 0 1 0 1.6 0a0.8 0.8 0 1 0 -1.6 0M133.55 202.32a0.8 0.8 0 1 0 1.6 0a0.8 0.8 0 1 0 -1.6 0M130.72 203.57a0.8 0.8 0 1 0 1.6 0a0.8 0.8 0 1 0 -1.6 0M134.95 203.60a0.8 0.8 0 1 0 1.6 0a0.8 0.8 0 1 0 -1.6 0M128.82 203.60a0.8 0.8 0 1 0 1.6 0a0.8 0.8 0 1 0 -1.6 0M136.82 203.95a0.8 0.8 0 1 0 1.6 0a0.8 0.8 0 1 0 -1.6 0M132.53 204.17a0.8 0.8 0 1 0 1.6 0a0.8 0.8 0 1 0 -1.6 0M127.01 204.17a0.8 0.8 0 1 0 1.6 0a0.8 0.8 0 1 0 -1.6 0M138.41 204.98a0.8 0.8 0 1 0 1.6 0a0.8 0.8 0 1 0 -1.6 0M125.35 205.09a0.8 0.8 0 1 0 1.6 0a0.8 0.8 0 1 0 -1.6 0M131.20 205.54a0.8 0.8 0 1 0 1.6 0a0.8 0.8 0 1 0 -1.6 0M132.97 206.24a0.8 0.8 0 1 0 1.6 0a0.8 0.8 0 1 0 -1.6 0M134.87 206.33a0.8 0.8 0 1 0 1.6 0a0.8 0.8 0 1 0 -1.6 0M129.59 206.53a0.8 0.8 0 1 0 1.6 0a0.8 0.8 0 1 0 -1.6 0M136.64 207.00a0.8 0.8 0 1 0 1.6 0a0.8 0.8 0 1 0 -1.6 0M127.77 207.10a0.8 0.8 0 1 0 1.6 0a0.8 0.8 0 1 0 -1.6 0M131.75 207.70a0.8 0.8 0 1 0 1.6 0a0.8 0.8 0 1 0 -1.6 0M138.39 207.76a0.8 0.8 0 1 0 1.6 0a0.8 0.8 0 1 0 -1.6 0M133.57 208.23a0.8 0.8 0 1 0 1.6 0a0.8 0.8 0 1 0 -1.6 0M130.00 208.42a0.8 0.8 0 1 0 1.6 0a0.8 0.8 0 1 0 -1.6 0M135.45 208.52a0.8 0.8 0 1 0 1.6 0a0.8 0.8 0 1 0 -1.6 0M132.28 209.63a0.8 0.8 0 1 0 1.6 0a0.8 0.8 0 1 0 -1.6 0M128.66 209.78a0.8 0.8 0 1 0 1.6 0a0.8 0.8 0 1 0 -1.6 0M134.10 210.18a0.8 0.8 0 1 0 1.6 0a0.8 0.8 0 1 0 -1.6 0M130.91 210.95a0.8 0.8 0 1 0 1.6 0a0.8 0.8 0 1 0 -1.6 0M135.80 211.02a0.8 0.8 0 1 0 1.6 0a0.8 0.8 0 1 0 -1.6 0M127.44 211.24a0.8 0.8 0 1 0 1.6 0a0.8 0.8 0 1 0 -1.6 0M132.66 211.68a0.8 0.8 0 1 0 1.6 0a0.8 0.8 0 1 0 -1.6 0M134.34 212.58a0.8 0.8 0 1 0 1.6 0a0.8 0.8 0 1 0 -1.6 0M130.28 212.74a0.8 0.8 0 1 0 1.6 0a0.8 0.8 0 1 0 -1.6 0M132.35 213.56a0.8 0.8 0 1 0 1.6 0a0.8 0.8 0 1 0 -1.6 0M135.37 214.18a0.8 0.8 0 1 0 1.6 0a0.8 0.8 0 1 0 -1.6 0M130.92 214.81a0.8 0.8 0 1 0 1.6 0a0.8 0.8 0 1 0 -1.6 0M132.63 215.64a0.8 0.8 0 1 0 1.6 0a0.8 0.8 0 1 0 -1.6 0M129.21 215.64a0.8 0.8 0 1 0 1.6 0a0.8 0.8 0 1 0 -1.6 0M136.50 215.70a0.8 0.8 0 1 0 1.6 0a0.8 0.8 0 1 0 -1.6 0M132.40 218.08a0.8 0.8 0 1 0 1.6 0a0.8 0.8 0 1 0 -1.6 0M130.54 218.45a0.8 0.8 0 1 0 1.6 0a0.8 0.8 0 1 0 -1.6 0M133.89 219.26a0.8 0.8 0 1 0 1.6 0a0.8 0.8 0 1 0 -1.6 0M135.78 219.47a0.8 0.8 0 1 0 1.6 0a0.8 0.8 0 1 0 -1.6 0M128.97 219.53a0.8 0.8 0 1 0 1.6 0a0.8 0.8 0 1 0 -1.6 0M132.40 221.40a0.8 0.8 0 1 0 1.6 0a0.8 0.8 0 1 0 -1.6 0M130.55 221.84a0.8 0.8 0 1 0 1.6 0a0.8 0.8 0 1 0 -1.6 0M132.40 225.49a0.8 0.8 0 1 0 1.6 0a0.8 0.8 0 1 0 -1.6 0M130.58 226.04a0.8 0.8 0 1 0 1.6 0a0.8 0.8 0 1 0 -1.6 0M133.91 226.64a0.8 0.8 0 1 0 1.6 0a0.8 0.8 0 1 0 -1.6 0M135.76 227.06a0.8 0.8 0 1 0 1.6 0a0.8 0.8 0 1 0 -1.6 0M129.04 227.15a0.8 0.8 0 1 0 1.6 0a0.8 0.8 0 1 0 -1.6 0M132.21 227.50a0.8 0.8 0 1 0 1.6 0a0.8 0.8 0 1 0 -1.6 0M137.57 227.63a0.8 0.8 0 1 0 1.6 0a0.8 0.8 0 1 0 -1.6 0M133.58 228.82a0.8 0.8 0 1 0 1.6 0a0.8 0.8 0 1 0 -1.6 0M131.44 229.24a0.8 0.8 0 1 0 1.6 0a0.8 0.8 0 1 0 -1.6 0M129.56 229.50a0.8 0.8 0 1 0 1.6 0a0.8 0.8 0 1 0 -1.6 0M135.16 229.86a0.8 0.8 0 1 0 1.6 0a0.8 0.8 0 1 0 -1.6 0M127.79 230.19a0.8 0.8 0 1 0 1.6 0a0.8 0.8 0 1 0 -1.6 0M136.95 230.52a0.8 0.8 0 1 0 1.6 0a0.8 0.8 0 1 0 -1.6 0M132.77 230.59a0.8 0.8 0 1 0 1.6 0a0.8 0.8 0 1 0 -1.6 0M131.13 231.54a0.8 0.8 0 1 0 1.6 0a0.8 0.8 0 1 0 -1.6 0M134.15 231.89a0.8 0.8 0 1 0 1.6 0a0.8 0.8 0 1 0 -1.6 0M132.40 232.99a0.8 0.8 0 1 0 1.6 0a0.8 0.8 0 1 0 -1.6 0M130.82 234.05a0.8 0.8 0 1 0 1.6 0a0.8 0.8 0 1 0 -1.6 0M132.51 234.93a0.8 0.8 0 1 0 1.6 0a0.8 0.8 0 1 0 -1.6 0M132.40 241.10a0.8 0.8 0 1 0 1.6 0a0.8 0.8 0 1 0 -1.6 0M132.40 250.00a0.8 0.8 0 1 0 1.6 0a0.8 0.8 0 1 0 -1.6 0M200.90 51.96a0.8 0.8 0 1 0 1.6 0a0.8 0.8 0 1 0 -1.6 0M200.90 113.57a0.8 0.8 0 1 0 1.6 0a0.8 0.8 0 1 0 -1.6 0M200.90 120.91a0.8 0.8 0 1 0 1.6 0a0.8 0.8 0 1 0 -1.6 0M200.90 124.46a0.8 0.8 0 1 0 1.6 0a0.8 0.8 0 1 0 -1.6 0M200.90 130.97a0.8 0.8 0 1 0 1.6 0a0.8 0.8 0 1 0 -1.6 0M199.94 132.61a0.8 0.8 0 1 0 1.6 0a0.8 0.8 0 1 0 -1.6 0M200.90 138.44a0.8 0.8 0 1 0 1.6 0a0.8 0.8 0 1 0 -1.6 0M199.19 139.28a0.8 0.8 0 1 0 1.6 0a0.8 0.8 0 1 0 -1.6 0M200.90 142.02a0.8 0.8 0 1 0 1.6 0a0.8 0.8 0 1 0 -1.6 0M199.19 142.86a0.8 0.8 0 1 0 1.6 0a0.8 0.8 0 1 0 -1.6 0M202.30 143.31a0.8 0.8 0 1 0 1.6 0a0.8 0.8 0 1 0 -1.6 0M200.64 144.25a0.8 0.8 0 1 0 1.6 0a0.8 0.8 0 1 0 -1.6 0M198.83 144.82a0.8 0.8 0 1 0 1.6 0a0.8 0.8 0 1 0 -1.6 0M200.90 146.68a0.8 0.8 0 1 0 1.6 0a0.8 0.8 0 1 0 -1.6 0M200.54 148.54a0.8 0.8 0 1 0 1.6 0a0.8 0.8 0 1 0 -1.6 0M202.14 149.56a0.8 0.8 0 1 0 1.6 0a0.8 0.8 0 1 0 -1.6 0M199.07 149.75a0.8 0.8 0 1 0 1.6 0a0.8 0.8 0 1 0 -1.6 0M203.97 150.07a0.8 0.8 0 1 0 1.6 0a0.8 0.8 0 1 0 -1.6 0M197.25 150.30a0.8 0.8 0 1 0 1.6 0a0.8 0.8 0 1 0 -1.6 0M200.90 152.11a0.8 0.8 0 1 0 1.6 0a0.8 0.8 0 1 0 -1.6 0M199.01 152.31a0.8 0.8 0 1 0 1.6 0a0.8 0.8 0 1 0 -1.6 0M202.78 152.39a0.8 0.8 0 1 0 1.6 0a0.8 0.8 0 1 0 -1.6 0M197.18 152.82a0.8 0.8 0 1 0 1.6 0a0.8 0.8 0 1 0 -1.6 0M204.07 153.78a0.8 0.8 0 1 0 1.6 0a0.8 0.8 0 1 0 -1.6 0M200.51 153.97a0.8 0.8 0 1 0 1.6 0a0.8 0.8 0 1 0 -1.6 0M205.94 154.11a0.8 0.8 0 1 0 1.6 0a0.8 0.8 0 1 0 -1.6 0M198.66 154.40a0.8 0.8 0 1 0 1.6 0a0.8 0.8 0 1 0 -1.6 0M196.15 154.42a0.8 0.8 0 1 0 1.6 0a0.8 0.8 0 1 0 -1.6 0M194.25 154.51a0.8 0.8 0 1 0 1.6 0a0.8 0.8 0 1 0 -1.6 0M202.18 154.88a0.8 0.8 0 1 0 1.6 0a0.8 0.8 0 1 0 -1.6 0M207.61 155.01a0.8 0.8 0 1 0 1.6 0a0.8 0.8 0 1 0 -1.6 0M204.70 155.58a0.8 0.8 0 1 0 1.6 0a0.8 0.8 0 1 0 -1.6 0M192.77 155.69a0.8 0.8 0 1 0 1.6 0a0.8 0.8 0 1 0 -1.6 0M209.37 155.75a0.8 0.8 0 1 0 1.6 0a0.8 0.8 0 1 0 -1.6 0M200.58 155.90a0.8 0.8 0 1 0 1.6 0a0.8 0.8 0 1 0 -1.6 0M198.77 156.50a0.8 0.8 0 1 0 1.6 0a0.8 0.8 0 1 0 -1.6 0M201.97 157.19a0.8 0.8 0 1 0 1.6 0a0.8 0.8 0 1 0 -1.6 0M203.86 157.42a0.8 0.8 0 1 0 1.6 0a0.8 0.8 0 1 0 -1.6 0M200.30 158.08a0.8 0.8 0 1 0 1.6 0a0.8 0.8 0 1 0 -1.6 0M197.84 158.15a0.8 0.8 0 1 0 1.6 0a0.8 0.8 0 1 0 -1.6 0M205.28 158.69a0.8 0.8 0 1 0 1.6 0a0.8 0.8 0 1 0 -1.6 0M200.90 160.55a0.8 0.8 0 1 0 1.6 0a0.8 0.8 0 1 0 -1.6 0M199.01 160.74a0.8 0.8 0 1 0 1.6 0a0.8 0.8 0 1 0 -1.6 0M202.74 161.04a0.8 0.8 0 1 0 1.6 0a0.8 0.8 0 1 0 -1.6 0M197.19 161.28a0.8 0.8 0 1 0 1.6 0a0.8 0.8 0 1 0 -1.6 0M200.90 162.47a0.8 0.8 0 1 0 1.6 0a0.8 0.8 0 1 0 -1.6 0M199.02 162.78a0.8 0.8 0 1 0 1.6 0a0.8 0.8 0 1 0 -1.6 0M203.46 162.80a0.8 0.8 0 1 0 1.6 0a0.8 0.8 0 1 0 -1.6 0M197.19 163.27a0.8 0.8 0 1 0 1.6 0a0.8 0.8 0 1 0 -1.6 0M205.15 163.67a0.8 0.8 0 1 0 1.6 0a0.8 0.8 0 1 0 -1.6 0M200.90 164.92a0.8 0.8 0 1 0 1.6 0a0.8 0.8 0 1 0 -1.6 0M199.04 165.28a0.8 0.8 0 1 0 1.6 0a0.8 0.8 0 1 0 -1.6 0M202.68 165.59a0.8 0.8 0 1 0 1.6 0a0.8 0.8 0 1 0 -1.6 0M204.58 165.66a0.8 0.8 0 1 0 1.6 0a0.8 0.8 0 1 0 -1.6 0M197.24 165.89a0.8 0.8 0 1 0 1.6 0a0.8 0.8 0 1 0 -1.6 0M206.45 166.00a0.8 0.8 0 1 0 1.6 0a0.8 0.8 0 1 0 -1.6 0M195.39 166.33a0.8 0.8 0 1 0 1.6 0a0.8 0.8 0 1 0 -1.6 0M208.30 166.43a0.8 0.8 0 1 0 1.6 0a0.8 0.8 0 1 0 -1.6 0M193.51 166.65a0.8 0.8 0 1 0 1.6 0a0.8 0.8 0 1 0 -1.6 0M200.90 167.16a0.8 0.8 0 1 0 1.6 0a0.8 0.8 0 1 0 -1.6 0M199.00 167.19a0.8 0.8 0 1 0 1.6 0a0.8 0.8 0 1 0 -1.6 0M202.66 167.89a0.8 0.8 0 1 0 1.6 0a0.8 0.8 0 1 0 -1.6 0M197.29 168.02a0.8 0.8 0 1 0 1.6 0a0.8 0.8 0 1 0 -1.6 0M204.41 168.61a0.8 0.8 0 1 0 1.6 0a0.8 0.8 0 1 0 -1.6 0M200.90 171.03a0.8 0.8 0 1 0 1.6 0a0.8 0.8 0 1 0 -1.6 0M199.01 171.25a0.8 0.8 0 1 0 1.6 0a0.8 0.8 0 1 0 -1.6 0M202.77 171.37a0.8 0.8 0 1 0 1.6 0a0.8 0.8 0 1 0 -1.6 0M197.29 172.06a0.8 0.8 0 1 0 1.6 0a0.8 0.8 0 1 0 -1.6 0M204.45 172.26a0.8 0.8 0 1 0 1.6 0a0.8 0.8 0 1 0 -1.6 0M206.31 172.63a0.8 0.8 0 1 0 1.6 0a0.8 0.8 0 1 0 -1.6 0M200.90 173.07a0.8 0.8 0 1 0 1.6 0a0.8 0.8 0 1 0 -1.6 0M199.01 173.21a0.8 0.8 0 1 0 1.6 0a0.8 0.8 0 1 0 -1.6 0M202.55 174.02a0.8 0.8 0 1 0 1.6 0a0.8 0.8 0 1 0 -1.6 0M197.29 174.04a0.8 0.8 0 1 0 1.6 0a0.8 0.8 0 1 0 -1.6 0M204.32 174.71a0.8 0.8 0 1 0 1.6 0a0.8 0.8 0 1 0 -1.6 0M200.32 174.88a0.8 0.8 0 1 0 1.6 0a0.8 0.8 0 1 0 -1.6 0M195.61 174.93a0.8 0.8 0 1 0 1.6 0a0.8 0.8 0 1 0 -1.6 0M206.20 174.95a0.8 0.8 0 1 0 1.6 0a0.8 0.8 0 1 0 -1.6 0M193.71 174.95a0.8 0.8 0 1 0 1.6 0a0.8 0.8 0 1 0 -1.6 0M198.63 175.75a0.8 0.8 0 1 0 1.6 0a0.8 0.8 0 1 0 -1.6 0M207.89 175.82a0.8 0.8 0 1 0 1.6 0a0.8 0.8 0 1 0 -1.6 0M201.80 176.08a0.8 0.8 0 1 0 1.6 0a0.8 0.8 0 1 0 -1.6 0M192.40 176.33a0.8 0.8 0 1 0 1.6 0a0.8 0.8 0 1 0 -1.6 0M200.20 177.10a0.8 0.8 0 1 0 1.6 0a0.8 0.8 0 1 0 -1.6 0M202.72 177.74a0.8 0.8 0 1 0 1.6 0a0.8 0.8 0 1 0 -1.6 0M198.45 177.83a0.8 0.8 0 1 0 1.6 0a0.8 0.8 0 1 0 -1.6 0M204.62 177.84a0.8 0.8 0 1 0 1.6 0a0.8 0.8 0 1 0 -1.6 0M196.70 178.57a0.8 0.8 0 1 0 1.6 0a0.8 0.8 0 1 0 -1.6 0M206.36 178.60a0.8 0.8 0 1 0 1.6 0a0.8 0.8 0 1 0 -1.6 0M201.10 178.77a0.8 0.8 0 1 0 1.6 0a0.8 0.8 0 1 0 -1.6 0M194.87 179.11a0.8 0.8 0 1 0 1.6 0a0.8 0.8 0 1 0 -1.6 0M208.18 179.16a0.8 0.8 0 1 0 1.6 0a0.8 0.8 0 1 0 -1.6 0M199.79 180.14a0.8 0.8 0 1 0 1.6 0a0.8 0.8 0 1 0 -1.6 0M201.62 180.65a0.8 0.8 0 1 0 1.6 0a0.8 0.8 0 1 0 -1.6 0M203.51 180.85a0.8 0.8 0 1 0 1.6 0a0.8 0.8 0 1 0 -1.6 0M198.17 181.13a0.8 0.8 0 1 0 1.6 0a0.8 0.8 0 1 0 -1.6 0M205.19 181.75a0.8 0.8 0 1 0 1.6 0a0.8 0.8 0 1 0 -1.6 0M196.45 181.95a0.8 0.8 0 1 0 1.6 0a0.8 0.8 0 1 0 -1.6 0M200.31 182.02a0.8 0.8 0 1 0 1.6 0a0.8 0.8 0 1 0 -1.6 0M207.04 182.18a0.8 0.8 0 1 0 1.6 0a0.8 0.8 0 1 0 -1.6 0M194.59 182.31a0.8 0.8 0 1 0 1.6 0a0.8 0.8 0 1 0 -1.6 0M202.04 182.81a0.8 0.8 0 1 0 1.6 0a0.8 0.8 0 1 0 -1.6 0M198.90 183.29a0.8 0.8 0 1 0 1.6 0a0.8 0.8 0 1 0 -1.6 0M203.87 183.33a0.8 0.8 0 1 0 1.6 0a0.8 0.8 0 1 0 -1.6 0M197.10 183.91a0.8 0.8 0 1 0 1.6 0a0.8 0.8 0 1 0 -1.6 0M200.70 184.15a0.8 0.8 0 1 0 1.6 0a0.8 0.8 0 1 0 -1.6 0M205.49 184.33a0.8 0.8 0 1 0 1.6 0a0.8 0.8 0 1 0 -1.6 0M195.27 184.42a0.8 0.8 0 1 0 1.6 0a0.8 0.8 0 1 0 -1.6 0M202.31 185.15a0.8 0.8 0 1 0 1.6 0a0.8 0.8 0 1 0 -1.6 0M199.60 185.70a0.8 0.8 0 1 0 1.6 0a0.8 0.8 0 1 0 -1.6 0M204.00 186.04a0.8 0.8 0 1 0 1.6 0a0.8 0.8 0 1 0 -1.6 0M197.73 186.05a0.8 0.8 0 1 0 1.6 0a0.8 0.8 0 1 0 -1.6 0M206.00 186.16a0.8 0.8 0 1 0 1.6 0a0.8 0.8 0 1 0 -1.6 0M195.86 186.39a0.8 0.8 0 1 0 1.6 0a0.8 0.8 0 1 0 -1.6 0M201.13 186.83a0.8 0.8 0 1 0 1.6 0a0.8 0.8 0 1 0 -1.6 0M207.67 187.07a0.8 0.8 0 1 0 1.6 0a0.8 0.8 0 1 0 -1.6 0M199.09 187.53a0.8 0.8 0 1 0 1.6 0a0.8 0.8 0 1 0 -1.6 0M194.37 187.57a0.8 0.8 0 1 0 1.6 0a0.8 0.8 0 1 0 -1.6 0M202.87 187.58a0.8 0.8 0 1 0 1.6 0a0.8 0.8 0 1 0 -1.6 0M192.47 187.62a0.8 0.8 0 1 0 1.6 0a0.8 0.8 0 1 0 -1.6 0M197.20 187.88a0.8 0.8 0 1 0 1.6 0a0.8 0.8 0 1 0 -1.6 0M204.73 187.98a0.8 0.8 0 1 0 1.6 0a0.8 0.8 0 1 0 -1.6 0M209.27 188.09a0.8 0.8 0 1 0 1.6 0a0.8 0.8 0 1 0 -1.6 0M190.73 188.38a0.8 0.8 0 1 0 1.6 0a0.8 0.8 0 1 0 -1.6 0M211.14 188.42a0.8 0.8 0 1 0 1.6 0a0.8 0.8 0 1 0 -1.6 0M206.52 188.62a0.8 0.8 0 1 0 1.6 0a0.8 0.8 0 1 0 -1.6 0M200.90 189.37a0.8 0.8 0 1 0 1.6 0a0.8 0.8 0 1 0 -1.6 0M199.02 189.63a0.8 0.8 0 1 0 1.6 0a0.8 0.8 0 1 0 -1.6 0M202.69 190.00a0.8 0.8 0 1 0 1.6 0a0.8 0.8 0 1 0 -1.6 0M204.59 190.10a0.8 0.8 0 1 0 1.6 0a0.8 0.8 0 1 0 -1.6 0M197.38 190.59a0.8 0.8 0 1 0 1.6 0a0.8 0.8 0 1 0 -1.6 0M206.21 191.10a0.8 0.8 0 1 0 1.6 0a0.8 0.8 0 1 0 -1.6 0M200.90 191.66a0.8 0.8 0 1 0 1.6 0a0.8 0.8 0 1 0 -1.6 0M199.04 192.03a0.8 0.8 0 1 0 1.6 0a0.8 0.8 0 1 0 -1.6 0M202.71 192.23a0.8 0.8 0 1 0 1.6 0a0.8 0.8 0 1 0 -1.6 0M197.36 192.92a0.8 0.8 0 1 0 1.6 0a0.8 0.8 0 1 0 -1.6 0M204.30 193.27a0.8 0.8 0 1 0 1.6 0a0.8 0.8 0 1 0 -1.6 0M206.20 193.27a0.8 0.8 0 1 0 1.6 0a0.8 0.8 0 1 0 -1.6 0M200.90 193.94a0.8 0.8 0 1 0 1.6 0a0.8 0.8 0 1 0 -1.6 0M199.02 194.20a0.8 0.8 0 1 0 1.6 0a0.8 0.8 0 1 0 -1.6 0M195.98 194.23a0.8 0.8 0 1 0 1.6 0a0.8 0.8 0 1 0 -1.6 0M202.71 194.53a0.8 0.8 0 1 0 1.6 0a0.8 0.8 0 1 0 -1.6 0M207.39 194.76a0.8 0.8 0 1 0 1.6 0a0.8 0.8 0 1 0 -1.6 0M204.98 195.04a0.8 0.8 0 1 0 1.6 0a0.8 0.8 0 1 0 -1.6 0M194.30 195.12a0.8 0.8 0 1 0 1.6 0a0.8 0.8 0 1 0 -1.6 0M197.53 195.38a0.8 0.8 0 1 0 1.6 0a0.8 0.8 0 1 0 -1.6 0M209.13 195.53a0.8 0.8 0 1 0 1.6 0a0.8 0.8 0 1 0 -1.6 0M200.26 195.73a0.8 0.8 0 1 0 1.6 0a0.8 0.8 0 1 0 -1.6 0M192.55 195.85a0.8 0.8 0 1 0 1.6 0a0.8 0.8 0 1 0 -1.6 0M202.01 196.47a0.8 0.8 0 1 0 1.6 0a0.8 0.8 0 1 0 -1.6 0M195.97 196.47a0.8 0.8 0 1 0 1.6 0a0.8 0.8 0 1 0 -1.6 0M203.87 196.83a0.8 0.8 0 1 0 1.6 0a0.8 0.8 0 1 0 -1.6 0M200.70 197.84a0.8 0.8 0 1 0 1.6 0a0.8 0.8 0 1 0 -1.6 0M198.80 198.02a0.8 0.8 0 1 0 1.6 0a0.8 0.8 0 1 0 -1.6 0M202.54 198.29a0.8 0.8 0 1 0 1.6 0a0.8 0.8 0 1 0 -1.6 0M204.61 198.59a0.8 0.8 0 1 0 1.6 0a0.8 0.8 0 1 0 -1.6 0M197.03 198.71a0.8 0.8 0 1 0 1.6 0a0.8 0.8 0 1 0 -1.6 0M200.90 201.25a0.8 0.8 0 1 0 1.6 0a0.8 0.8 0 1 0 -1.6 0M199.31 202.29a0.8 0.8 0 1 0 1.6 0a0.8 0.8 0 1 0 -1.6 0M202.45 202.35a0.8 0.8 0 1 0 1.6 0a0.8 0.8 0 1 0 -1.6 0M204.19 203.10a0.8 0.8 0 1 0 1.6 0a0.8 0.8 0 1 0 -1.6 0M197.60 203.13a0.8 0.8 0 1 0 1.6 0a0.8 0.8 0 1 0 -1.6 0M206.08 203.32a0.8 0.8 0 1 0 1.6 0a0.8 0.8 0 1 0 -1.6 0M195.72 203.38a0.8 0.8 0 1 0 1.6 0a0.8 0.8 0 1 0 -1.6 0M200.90 203.84a0.8 0.8 0 1 0 1.6 0a0.8 0.8 0 1 0 -1.6 0M207.91 203.85a0.8 0.8 0 1 0 1.6 0a0.8 0.8 0 1 0 -1.6 0M194.00 204.17a0.8 0.8 0 1 0 1.6 0a0.8 0.8 0 1 0 -1.6 0M199.09 204.43a0.8 0.8 0 1 0 1.6 0a0.8 0.8 0 1 0 -1.6 0M202.16 205.26a0.8 0.8 0 1 0 1.6 0a0.8 0.8 0 1 0 -1.6 0M204.01 205.67a0.8 0.8 0 1 0 1.6 0a0.8 0.8 0 1 0 -1.6 0M200.45 206.09a0.8 0.8 0 1 0 1.6 0a0.8 0.8 0 1 0 -1.6 0M198.19 206.10a0.8 0.8 0 1 0 1.6 0a0.8 0.8 0 1 0 -1.6 0M196.29 206.14a0.8 0.8 0 1 0 1.6 0a0.8 0.8 0 1 0 -1.6 0M205.69 206.56a0.8 0.8 0 1 0 1.6 0a0.8 0.8 0 1 0 -1.6 0M201.82 207.40a0.8 0.8 0 1 0 1.6 0a0.8 0.8 0 1 0 -1.6 0M199.52 207.75a0.8 0.8 0 1 0 1.6 0a0.8 0.8 0 1 0 -1.6 0M203.60 208.08a0.8 0.8 0 1 0 1.6 0a0.8 0.8 0 1 0 -1.6 0M197.66 208.13a0.8 0.8 0 1 0 1.6 0a0.8 0.8 0 1 0 -1.6 0M195.76 208.15a0.8 0.8 0 1 0 1.6 0a0.8 0.8 0 1 0 -1.6 0M206.47 208.30a0.8 0.8 0 1 0 1.6 0a0.8 0.8 0 1 0 -1.6 0M193.93 208.65a0.8 0.8 0 1 0 1.6 0a0.8 0.8 0 1 0 -1.6 0M208.22 209.02a0.8 0.8 0 1 0 1.6 0a0.8 0.8 0 1 0 -1.6 0M200.90 209.16a0.8 0.8 0 1 0 1.6 0a0.8 0.8 0 1 0 -1.6 0M192.14 209.29a0.8 0.8 0 1 0 1.6 0a0.8 0.8 0 1 0 -1.6 0M204.88 209.48a0.8 0.8 0 1 0 1.6 0a0.8 0.8 0 1 0 -1.6 0M199.71 210.65a0.8 0.8 0 1 0 1.6 0a0.8 0.8 0 1 0 -1.6 0M201.44 211.44a0.8 0.8 0 1 0 1.6 0a0.8 0.8 0 1 0 -1.6 0M199.93 212.59a0.8 0.8 0 1 0 1.6 0a0.8 0.8 0 1 0 -1.6 0M202.12 213.21a0.8 0.8 0 1 0 1.6 0a0.8 0.8 0 1 0 -1.6 0M198.42 213.75a0.8 0.8 0 1 0 1.6 0a0.8 0.8 0 1 0 -1.6 0M203.79 214.12a0.8 0.8 0 1 0 1.6 0a0.8 0.8 0 1 0 -1.6 0M196.56 214.14a0.8 0.8 0 1 0 1.6 0a0.8 0.8 0 1 0 -1.6 0M200.90 214.72a0.8 0.8 0 1 0 1.6 0a0.8 0.8 0 1 0 -1.6 0M205.53 214.88a0.8 0.8 0 1 0 1.6 0a0.8 0.8 0 1 0 -1.6 0M195.07 215.32a0.8 0.8 0 1 0 1.6 0a0.8 0.8 0 1 0 -1.6 0M207.33 215.48a0.8 0.8 0 1 0 1.6 0a0.8 0.8 0 1 0 -1.6 0M200.90 217.22a0.8 0.8 0 1 0 1.6 0a0.8 0.8 0 1 0 -1.6 0M199.03 217.53a0.8 0.8 0 1 0 1.6 0a0.8 0.8 0 1 0 -1.6 0M201.90 218.84a0.8 0.8 0 1 0 1.6 0a0.8 0.8 0 1 0 -1.6 0M200.44 220.06a0.8 0.8 0 1 0 1.6 0a0.8 0.8 0 1 0 -1.6 0M201.83 221.35a0.8 0.8 0 1 0 1.6 0a0.8 0.8 0 1 0 -1.6 0M199.05 221.36a0.8 0.8 0 1 0 1.6 0a0.8 0.8 0 1 0 -1.6 0M203.71 221.61a0.8 0.8 0 1 0 1.6 0a0.8 0.8 0 1 0 -1.6 0M197.44 222.36a0.8 0.8 0 1 0 1.6 0a0.8 0.8 0 1 0 -1.6 0M200.69 222.88a0.8 0.8 0 1 0 1.6 0a0.8 0.8 0 1 0 -1.6 0M205.01 222.99a0.8 0.8 0 1 0 1.6 0a0.8 0.8 0 1 0 -1.6 0M202.53 223.38a0.8 0.8 0 1 0 1.6 0a0.8 0.8 0 1 0 -1.6 0M200.90 225.16a0.8 0.8 0 1 0 1.6 0a0.8 0.8 0 1 0 -1.6 0M200.90 227.15a0.8 0.8 0 1 0 1.6 0a0.8 0.8 0 1 0 -1.6 0M199.68 228.61a0.8 0.8 0 1 0 1.6 0a0.8 0.8 0 1 0 -1.6 0M201.52 229.10a0.8 0.8 0 1 0 1.6 0a0.8 0.8 0 1 0 -1.6 0M203.42 229.14a0.8 0.8 0 1 0 1.6 0a0.8 0.8 0 1 0 -1.6 0M197.90 229.26a0.8 0.8 0 1 0 1.6 0a0.8 0.8 0 1 0 -1.6 0M205.31 229.35a0.8 0.8 0 1 0 1.6 0a0.8 0.8 0 1 0 -1.6 0M200.90 235.16a0.8 0.8 0 1 0 1.6 0a0.8 0.8 0 1 0 -1.6 0M200.90 241.28a0.8 0.8 0 1 0 1.6 0a0.8 0.8 0 1 0 -1.6 0M200.90 249.55a0.8 0.8 0 1 0 1.6 0a0.8 0.8 0 1 0 -1.6 0M269.70 51.49a0.8 0.8 0 1 0 1.6 0a0.8 0.8 0 1 0 -1.6 0M269.70 90.69a0.8 0.8 0 1 0 1.6 0a0.8 0.8 0 1 0 -1.6 0M269.70 104.97a0.8 0.8 0 1 0 1.6 0a0.8 0.8 0 1 0 -1.6 0M269.70 114.36a0.8 0.8 0 1 0 1.6 0a0.8 0.8 0 1 0 -1.6 0M268.02 115.23a0.8 0.8 0 1 0 1.6 0a0.8 0.8 0 1 0 -1.6 0M269.70 121.05a0.8 0.8 0 1 0 1.6 0a0.8 0.8 0 1 0 -1.6 0M269.70 124.93a0.8 0.8 0 1 0 1.6 0a0.8 0.8 0 1 0 -1.6 0M269.70 127.95a0.8 0.8 0 1 0 1.6 0a0.8 0.8 0 1 0 -1.6 0M269.70 131.94a0.8 0.8 0 1 0 1.6 0a0.8 0.8 0 1 0 -1.6 0M267.82 132.24a0.8 0.8 0 1 0 1.6 0a0.8 0.8 0 1 0 -1.6 0M271.16 133.16a0.8 0.8 0 1 0 1.6 0a0.8 0.8 0 1 0 -1.6 0M269.70 135.35a0.8 0.8 0 1 0 1.6 0a0.8 0.8 0 1 0 -1.6 0M269.70 138.82a0.8 0.8 0 1 0 1.6 0a0.8 0.8 0 1 0 -1.6 0M267.81 138.98a0.8 0.8 0 1 0 1.6 0a0.8 0.8 0 1 0 -1.6 0M271.30 139.85a0.8 0.8 0 1 0 1.6 0a0.8 0.8 0 1 0 -1.6 0M266.48 140.35a0.8 0.8 0 1 0 1.6 0a0.8 0.8 0 1 0 -1.6 0M269.70 141.60a0.8 0.8 0 1 0 1.6 0a0.8 0.8 0 1 0 -1.6 0M267.94 142.32a0.8 0.8 0 1 0 1.6 0a0.8 0.8 0 1 0 -1.6 0M270.95 143.03a0.8 0.8 0 1 0 1.6 0a0.8 0.8 0 1 0 -1.6 0M269.36 144.06a0.8 0.8 0 1 0 1.6 0a0.8 0.8 0 1 0 -1.6 0M267.49 144.39a0.8 0.8 0 1 0 1.6 0a0.8 0.8 0 1 0 -1.6 0M271.02 144.98a0.8 0.8 0 1 0 1.6 0a0.8 0.8 0 1 0 -1.6 0M272.78 145.69a0.8 0.8 0 1 0 1.6 0a0.8 0.8 0 1 0 -1.6 0M269.70 146.58a0.8 0.8 0 1 0 1.6 0a0.8 0.8 0 1 0 -1.6 0M267.99 147.41a0.8 0.8 0 1 0 1.6 0a0.8 0.8 0 1 0 -1.6 0M270.95 148.01a0.8 0.8 0 1 0 1.6 0a0.8 0.8 0 1 0 -1.6 0M272.84 148.20a0.8 0.8 0 1 0 1.6 0a0.8 0.8 0 1 0 -1.6 0M266.32 148.31a0.8 0.8 0 1 0 1.6 0a0.8 0.8 0 1 0 -1.6 0M269.37 149.06a0.8 0.8 0 1 0 1.6 0a0.8 0.8 0 1 0 -1.6 0M274.31 149.41a0.8 0.8 0 1 0 1.6 0a0.8 0.8 0 1 0 -1.6 0M264.81 149.46a0.8 0.8 0 1 0 1.6 0a0.8 0.8 0 1 0 -1.6 0M276.20 149.56a0.8 0.8 0 1 0 1.6 0a0.8 0.8 0 1 0 -1.6 0M262.91 149.60a0.8 0.8 0 1 0 1.6 0a0.8 0.8 0 1 0 -1.6 0M271.02 149.99a0.8 0.8 0 1 0 1.6 0a0.8 0.8 0 1 0 -1.6 0M268.01 150.38a0.8 0.8 0 1 0 1.6 0a0.8 0.8 0 1 0 -1.6 0M272.68 150.92a0.8 0.8 0 1 0 1.6 0a0.8 0.8 0 1 0 -1.6 0M266.25 151.10a0.8 0.8 0 1 0 1.6 0a0.8 0.8 0 1 0 -1.6 0M269.70 151.49a0.8 0.8 0 1 0 1.6 0a0.8 0.8 0 1 0 -1.6 0M269.15 153.31a0.8 0.8 0 1 0 1.6 0a0.8 0.8 0 1 0 -1.6 0M271.05 153.45a0.8 0.8 0 1 0 1.6 0a0.8 0.8 0 1 0 -1.6 0M267.30 153.73a0.8 0.8 0 1 0 1.6 0a0.8 0.8 0 1 0 -1.6 0M272.82 154.12a0.8 0.8 0 1 0 1.6 0a0.8 0.8 0 1 0 -1.6 0M265.45 154.15a0.8 0.8 0 1 0 1.6 0a0.8 0.8 0 1 0 -1.6 0M274.72 154.16a0.8 0.8 0 1 0 1.6 0a0.8 0.8 0 1 0 -1.6 0M263.66 154.80a0.8 0.8 0 1 0 1.6 0a0.8 0.8 0 1 0 -1.6 0M269.78 155.10a0.8 0.8 0 1 0 1.6 0a0.8 0.8 0 1 0 -1.6 0M276.20 155.35a0.8 0.8 0 1 0 1.6 0a0.8 0.8 0 1 0 -1.6 0M267.93 155.53a0.8 0.8 0 1 0 1.6 0a0.8 0.8 0 1 0 -1.6 0M271.53 155.85a0.8 0.8 0 1 0 1.6 0a0.8 0.8 0 1 0 -1.6 0M273.55 155.88a0.8 0.8 0 1 0 1.6 0a0.8 0.8 0 1 0 -1.6 0M266.30 156.50a0.8 0.8 0 1 0 1.6 0a0.8 0.8 0 1 0 -1.6 0M269.70 157.09a0.8 0.8 0 1 0 1.6 0a0.8 0.8 0 1 0 -1.6 0M274.75 157.35a0.8 0.8 0 1 0 1.6 0a0.8 0.8 0 1 0 -1.6 0M267.98 157.91a0.8 0.8 0 1 0 1.6 0a0.8 0.8 0 1 0 -1.6 0M271.31 158.10a0.8 0.8 0 1 0 1.6 0a0.8 0.8 0 1 0 -1.6 0M265.32 158.13a0.8 0.8 0 1 0 1.6 0a0.8 0.8 0 1 0 -1.6 0M263.43 158.32a0.8 0.8 0 1 0 1.6 0a0.8 0.8 0 1 0 -1.6 0M269.66 159.04a0.8 0.8 0 1 0 1.6 0a0.8 0.8 0 1 0 -1.6 0M272.88 159.17a0.8 0.8 0 1 0 1.6 0a0.8 0.8 0 1 0 -1.6 0M267.26 159.67a0.8 0.8 0 1 0 1.6 0a0.8 0.8 0 1 0 -1.6 0M270.82 160.54a0.8 0.8 0 1 0 1.6 0a0.8 0.8 0 1 0 -1.6 0M265.61 160.61a0.8 0.8 0 1 0 1.6 0a0.8 0.8 0 1 0 -1.6 0M268.97 160.98a0.8 0.8 0 1 0 1.6 0a0.8 0.8 0 1 0 -1.6 0M272.60 161.20a0.8 0.8 0 1 0 1.6 0a0.8 0.8 0 1 0 -1.6 0M274.48 161.49a0.8 0.8 0 1 0 1.6 0a0.8 0.8 0 1 0 -1.6 0M267.31 161.89a0.8 0.8 0 1 0 1.6 0a0.8 0.8 0 1 0 -1.6 0M264.24 161.92a0.8 0.8 0 1 0 1.6 0a0.8 0.8 0 1 0 -1.6 0M270.00 162.58a0.8 0.8 0 1 0 1.6 0a0.8 0.8 0 1 0 -1.6 0M271.76 163.30a0.8 0.8 0 1 0 1.6 0a0.8 0.8 0 1 0 -1.6 0M266.20 163.44a0.8 0.8 0 1 0 1.6 0a0.8 0.8 0 1 0 -1.6 0M268.40 163.61a0.8 0.8 0 1 0 1.6 0a0.8 0.8 0 1 0 -1.6 0M273.60 163.75a0.8 0.8 0 1 0 1.6 0a0.8 0.8 0 1 0 -1.6 0M263.93 163.79a0.8 0.8 0 1 0 1.6 0a0.8 0.8 0 1 0 -1.6 0M275.50 163.81a0.8 0.8 0 1 0 1.6 0a0.8 0.8 0 1 0 -1.6 0M262.15 164.44a0.8 0.8 0 1 0 1.6 0a0.8 0.8 0 1 0 -1.6 0M269.70 165.45a0.8 0.8 0 1 0 1.6 0a0.8 0.8 0 1 0 -1.6 0M267.82 165.71a0.8 0.8 0 1 0 1.6 0a0.8 0.8 0 1 0 -1.6 0M271.02 166.82a0.8 0.8 0 1 0 1.6 0a0.8 0.8 0 1 0 -1.6 0M272.90 167.04a0.8 0.8 0 1 0 1.6 0a0.8 0.8 0 1 0 -1.6 0M269.27 167.56a0.8 0.8 0 1 0 1.6 0a0.8 0.8 0 1 0 -1.6 0M267.38 167.81a0.8 0.8 0 1 0 1.6 0a0.8 0.8 0 1 0 -1.6 0M265.58 168.40a0.8 0.8 0 1 0 1.6 0a0.8 0.8 0 1 0 -1.6 0M274.04 168.56a0.8 0.8 0 1 0 1.6 0a0.8 0.8 0 1 0 -1.6 0M270.53 168.98a0.8 0.8 0 1 0 1.6 0a0.8 0.8 0 1 0 -1.6 0M263.77 168.99a0.8 0.8 0 1 0 1.6 0a0.8 0.8 0 1 0 -1.6 0M275.88 169.07a0.8 0.8 0 1 0 1.6 0a0.8 0.8 0 1 0 -1.6 0M268.93 170.00a0.8 0.8 0 1 0 1.6 0a0.8 0.8 0 1 0 -1.6 0M271.79 170.40a0.8 0.8 0 1 0 1.6 0a0.8 0.8 0 1 0 -1.6 0M267.13 170.62a0.8 0.8 0 1 0 1.6 0a0.8 0.8 0 1 0 -1.6 0M273.67 170.69a0.8 0.8 0 1 0 1.6 0a0.8 0.8 0 1 0 -1.6 0M265.25 170.90a0.8 0.8 0 1 0 1.6 0a0.8 0.8 0 1 0 -1.6 0M269.70 173.02a0.8 0.8 0 1 0 1.6 0a0.8 0.8 0 1 0 -1.6 0M267.88 173.55a0.8 0.8 0 1 0 1.6 0a0.8 0.8 0 1 0 -1.6 0M271.50 173.64a0.8 0.8 0 1 0 1.6 0a0.8 0.8 0 1 0 -1.6 0M273.38 173.89a0.8 0.8 0 1 0 1.6 0a0.8 0.8 0 1 0 -1.6 0M266.14 174.32a0.8 0.8 0 1 0 1.6 0a0.8 0.8 0 1 0 -1.6 0M264.24 174.35a0.8 0.8 0 1 0 1.6 0a0.8 0.8 0 1 0 -1.6 0M275.17 174.51a0.8 0.8 0 1 0 1.6 0a0.8 0.8 0 1 0 -1.6 0M269.70 175.20a0.8 0.8 0 1 0 1.6 0a0.8 0.8 0 1 0 -1.6 0M268.39 176.58a0.8 0.8 0 1 0 1.6 0a0.8 0.8 0 1 0 -1.6 0M271.00 176.59a0.8 0.8 0 1 0 1.6 0a0.8 0.8 0 1 0 -1.6 0M272.90 176.61a0.8 0.8 0 1 0 1.6 0a0.8 0.8 0 1 0 -1.6 0M266.53 176.95a0.8 0.8 0 1 0 1.6 0a0.8 0.8 0 1 0 -1.6 0M274.74 177.09a0.8 0.8 0 1 0 1.6 0a0.8 0.8 0 1 0 -1.6 0M264.64 177.21a0.8 0.8 0 1 0 1.6 0a0.8 0.8 0 1 0 -1.6 0M276.62 177.33a0.8 0.8 0 1 0 1.6 0a0.8 0.8 0 1 0 -1.6 0M262.83 177.76a0.8 0.8 0 1 0 1.6 0a0.8 0.8 0 1 0 -1.6 0M278.42 177.94a0.8 0.8 0 1 0 1.6 0a0.8 0.8 0 1 0 -1.6 0M269.70 178.14a0.8 0.8 0 1 0 1.6 0a0.8 0.8 0 1 0 -1.6 0M271.80 178.32a0.8 0.8 0 1 0 1.6 0a0.8 0.8 0 1 0 -1.6 0M261.02 178.36a0.8 0.8 0 1 0 1.6 0a0.8 0.8 0 1 0 -1.6 0M267.84 178.53a0.8 0.8 0 1 0 1.6 0a0.8 0.8 0 1 0 -1.6 0M280.21 178.56a0.8 0.8 0 1 0 1.6 0a0.8 0.8 0 1 0 -1.6 0M259.14 178.62a0.8 0.8 0 1 0 1.6 0a0.8 0.8 0 1 0 -1.6 0M266.22 179.53a0.8 0.8 0 1 0 1.6 0a0.8 0.8 0 1 0 -1.6 0M273.20 179.59a0.8 0.8 0 1 0 1.6 0a0.8 0.8 0 1 0 -1.6 0M270.58 179.82a0.8 0.8 0 1 0 1.6 0a0.8 0.8 0 1 0 -1.6 0M268.99 180.86a0.8 0.8 0 1 0 1.6 0a0.8 0.8 0 1 0 -1.6 0M265.05 181.02a0.8 0.8 0 1 0 1.6 0a0.8 0.8 0 1 0 -1.6 0M271.41 181.53a0.8 0.8 0 1 0 1.6 0a0.8 0.8 0 1 0 -1.6 0M267.68 182.24a0.8 0.8 0 1 0 1.6 0a0.8 0.8 0 1 0 -1.6 0M269.70 184.00a0.8 0.8 0 1 0 1.6 0a0.8 0.8 0 1 0 -1.6 0M267.81 184.17a0.8 0.8 0 1 0 1.6 0a0.8 0.8 0 1 0 -1.6 0M271.56 184.38a0.8 0.8 0 1 0 1.6 0a0.8 0.8 0 1 0 -1.6 0M266.04 184.86a0.8 0.8 0 1 0 1.6 0a0.8 0.8 0 1 0 -1.6 0M273.38 184.93a0.8 0.8 0 1 0 1.6 0a0.8 0.8 0 1 0 -1.6 0M264.15 185.07a0.8 0.8 0 1 0 1.6 0a0.8 0.8 0 1 0 -1.6 0M275.20 185.46a0.8 0.8 0 1 0 1.6 0a0.8 0.8 0 1 0 -1.6 0M269.70 186.04a0.8 0.8 0 1 0 1.6 0a0.8 0.8 0 1 0 -1.6 0M267.83 186.39a0.8 0.8 0 1 0 1.6 0a0.8 0.8 0 1 0 -1.6 0M271.11 187.31a0.8 0.8 0 1 0 1.6 0a0.8 0.8 0 1 0 -1.6 0M269.70 188.63a0.8 0.8 0 1 0 1.6 0a0.8 0.8 0 1 0 -1.6 0M267.80 188.75a0.8 0.8 0 1 0 1.6 0a0.8 0.8 0 1 0 -1.6 0M272.07 188.95a0.8 0.8 0 1 0 1.6 0a0.8 0.8 0 1 0 -1.6 0M265.93 189.07a0.8 0.8 0 1 0 1.6 0a0.8 0.8 0 1 0 -1.6 0M273.96 189.15a0.8 0.8 0 1 0 1.6 0a0.8 0.8 0 1 0 -1.6 0M264.04 189.20a0.8 0.8 0 1 0 1.6 0a0.8 0.8 0 1 0 -1.6 0M275.84 189.43a0.8 0.8 0 1 0 1.6 0a0.8 0.8 0 1 0 -1.6 0M269.12 190.44a0.8 0.8 0 1 0 1.6 0a0.8 0.8 0 1 0 -1.6 0M271.01 190.70a0.8 0.8 0 1 0 1.6 0a0.8 0.8 0 1 0 -1.6 0M267.30 190.99a0.8 0.8 0 1 0 1.6 0a0.8 0.8 0 1 0 -1.6 0M272.61 191.72a0.8 0.8 0 1 0 1.6 0a0.8 0.8 0 1 0 -1.6 0M265.59 191.81a0.8 0.8 0 1 0 1.6 0a0.8 0.8 0 1 0 -1.6 0M274.45 192.17a0.8 0.8 0 1 0 1.6 0a0.8 0.8 0 1 0 -1.6 0M269.81 192.21a0.8 0.8 0 1 0 1.6 0a0.8 0.8 0 1 0 -1.6 0M263.83 192.53a0.8 0.8 0 1 0 1.6 0a0.8 0.8 0 1 0 -1.6 0M268.03 192.87a0.8 0.8 0 1 0 1.6 0a0.8 0.8 0 1 0 -1.6 0M271.07 193.63a0.8 0.8 0 1 0 1.6 0a0.8 0.8 0 1 0 -1.6 0M272.97 193.71a0.8 0.8 0 1 0 1.6 0a0.8 0.8 0 1 0 -1.6 0M266.65 194.18a0.8 0.8 0 1 0 1.6 0a0.8 0.8 0 1 0 -1.6 0M264.75 194.20a0.8 0.8 0 1 0 1.6 0a0.8 0.8 0 1 0 -1.6 0M269.37 194.47a0.8 0.8 0 1 0 1.6 0a0.8 0.8 0 1 0 -1.6 0M274.69 194.52a0.8 0.8 0 1 0 1.6 0a0.8 0.8 0 1 0 -1.6 0M262.90 194.65a0.8 0.8 0 1 0 1.6 0a0.8 0.8 0 1 0 -1.6 0M276.58 194.75a0.8 0.8 0 1 0 1.6 0a0.8 0.8 0 1 0 -1.6 0M271.62 195.45a0.8 0.8 0 1 0 1.6 0a0.8 0.8 0 1 0 -1.6 0M267.94 195.72a0.8 0.8 0 1 0 1.6 0a0.8 0.8 0 1 0 -1.6 0M261.36 195.76a0.8 0.8 0 1 0 1.6 0a0.8 0.8 0 1 0 -1.6 0M266.06 196.02a0.8 0.8 0 1 0 1.6 0a0.8 0.8 0 1 0 -1.6 0M273.43 196.03a0.8 0.8 0 1 0 1.6 0a0.8 0.8 0 1 0 -1.6 0M269.72 196.38a0.8 0.8 0 1 0 1.6 0a0.8 0.8 0 1 0 -1.6 0M264.22 196.50a0.8 0.8 0 1 0 1.6 0a0.8 0.8 0 1 0 -1.6 0M275.22 196.66a0.8 0.8 0 1 0 1.6 0a0.8 0.8 0 1 0 -1.6 0M277.02 197.27a0.8 0.8 0 1 0 1.6 0a0.8 0.8 0 1 0 -1.6 0M268.38 197.73a0.8 0.8 0 1 0 1.6 0a0.8 0.8 0 1 0 -1.6 0M270.76 197.97a0.8 0.8 0 1 0 1.6 0a0.8 0.8 0 1 0 -1.6 0M272.51 198.71a0.8 0.8 0 1 0 1.6 0a0.8 0.8 0 1 0 -1.6 0M269.56 199.44a0.8 0.8 0 1 0 1.6 0a0.8 0.8 0 1 0 -1.6 0M267.71 199.85a0.8 0.8 0 1 0 1.6 0a0.8 0.8 0 1 0 -1.6 0M265.81 199.93a0.8 0.8 0 1 0 1.6 0a0.8 0.8 0 1 0 -1.6 0M271.09 200.58a0.8 0.8 0 1 0 1.6 0a0.8 0.8 0 1 0 -1.6 0M272.88 201.22a0.8 0.8 0 1 0 1.6 0a0.8 0.8 0 1 0 -1.6 0M269.44 201.53a0.8 0.8 0 1 0 1.6 0a0.8 0.8 0 1 0 -1.6 0M266.91 201.58a0.8 0.8 0 1 0 1.6 0a0.8 0.8 0 1 0 -1.6 0M265.02 201.69a0.8 0.8 0 1 0 1.6 0a0.8 0.8 0 1 0 -1.6 0M269.70 203.61a0.8 0.8 0 1 0 1.6 0a0.8 0.8 0 1 0 -1.6 0M267.87 204.11a0.8 0.8 0 1 0 1.6 0a0.8 0.8 0 1 0 -1.6 0M271.50 204.21a0.8 0.8 0 1 0 1.6 0a0.8 0.8 0 1 0 -1.6 0M273.40 204.26a0.8 0.8 0 1 0 1.6 0a0.8 0.8 0 1 0 -1.6 0M266.09 204.80a0.8 0.8 0 1 0 1.6 0a0.8 0.8 0 1 0 -1.6 0M275.19 204.91a0.8 0.8 0 1 0 1.6 0a0.8 0.8 0 1 0 -1.6 0M264.21 205.01a0.8 0.8 0 1 0 1.6 0a0.8 0.8 0 1 0 -1.6 0M269.70 206.29a0.8 0.8 0 1 0 1.6 0a0.8 0.8 0 1 0 -1.6 0M267.80 206.34a0.8 0.8 0 1 0 1.6 0a0.8 0.8 0 1 0 -1.6 0M271.59 206.47a0.8 0.8 0 1 0 1.6 0a0.8 0.8 0 1 0 -1.6 0M266.04 207.04a0.8 0.8 0 1 0 1.6 0a0.8 0.8 0 1 0 -1.6 0M272.92 207.83a0.8 0.8 0 1 0 1.6 0a0.8 0.8 0 1 0 -1.6 0M269.70 209.89a0.8 0.8 0 1 0 1.6 0a0.8 0.8 0 1 0 -1.6 0M267.86 210.38a0.8 0.8 0 1 0 1.6 0a0.8 0.8 0 1 0 -1.6 0M270.49 211.62a0.8 0.8 0 1 0 1.6 0a0.8 0.8 0 1 0 -1.6 0M272.38 211.76a0.8 0.8 0 1 0 1.6 0a0.8 0.8 0 1 0 -1.6 0M266.90 212.02a0.8 0.8 0 1 0 1.6 0a0.8 0.8 0 1 0 -1.6 0M269.03 212.83a0.8 0.8 0 1 0 1.6 0a0.8 0.8 0 1 0 -1.6 0M270.66 213.80a0.8 0.8 0 1 0 1.6 0a0.8 0.8 0 1 0 -1.6 0M269.06 214.82a0.8 0.8 0 1 0 1.6 0a0.8 0.8 0 1 0 -1.6 0M272.24 214.85a0.8 0.8 0 1 0 1.6 0a0.8 0.8 0 1 0 -1.6 0M267.22 215.31a0.8 0.8 0 1 0 1.6 0a0.8 0.8 0 1 0 -1.6 0M269.70 217.00a0.8 0.8 0 1 0 1.6 0a0.8 0.8 0 1 0 -1.6 0M268.45 218.44a0.8 0.8 0 1 0 1.6 0a0.8 0.8 0 1 0 -1.6 0M270.33 218.80a0.8 0.8 0 1 0 1.6 0a0.8 0.8 0 1 0 -1.6 0M272.01 219.68a0.8 0.8 0 1 0 1.6 0a0.8 0.8 0 1 0 -1.6 0M267.14 219.82a0.8 0.8 0 1 0 1.6 0a0.8 0.8 0 1 0 -1.6 0M273.90 219.87a0.8 0.8 0 1 0 1.6 0a0.8 0.8 0 1 0 -1.6 0M269.70 220.61a0.8 0.8 0 1 0 1.6 0a0.8 0.8 0 1 0 -1.6 0M265.52 220.80a0.8 0.8 0 1 0 1.6 0a0.8 0.8 0 1 0 -1.6 0M268.10 221.64a0.8 0.8 0 1 0 1.6 0a0.8 0.8 0 1 0 -1.6 0M270.85 222.13a0.8 0.8 0 1 0 1.6 0a0.8 0.8 0 1 0 -1.6 0M272.56 222.94a0.8 0.8 0 1 0 1.6 0a0.8 0.8 0 1 0 -1.6 0M266.91 223.12a0.8 0.8 0 1 0 1.6 0a0.8 0.8 0 1 0 -1.6 0M269.70 224.81a0.8 0.8 0 1 0 1.6 0a0.8 0.8 0 1 0 -1.6 0M268.52 226.30a0.8 0.8 0 1 0 1.6 0a0.8 0.8 0 1 0 -1.6 0M270.79 226.37a0.8 0.8 0 1 0 1.6 0a0.8 0.8 0 1 0 -1.6 0M269.70 229.91a0.8 0.8 0 1 0 1.6 0a0.8 0.8 0 1 0 -1.6 0M269.70 234.80a0.8 0.8 0 1 0 1.6 0a0.8 0.8 0 1 0 -1.6 0M269.70 240.19a0.8 0.8 0 1 0 1.6 0a0.8 0.8 0 1 0 -1.6 0M269.70 260.59a0.8 0.8 0 1 0 1.6 0a0.8 0.8 0 1 0 -1.6 0" fill="#858585" stroke="none"/>
<line x1="30.8" y1="147.5" x2="297" y2="147.5" stroke="#a0a0a0" stroke-width="1"/>
<line x1="30.8" y1="32.6" x2="30.8" y2="271" stroke="#000" stroke-width="1.6"/>
<line x1="30" y1="270.1" x2="304.4" y2="270.1" stroke="#000" stroke-width="1.6"/>
<line x1="27.0" y1="270.3" x2="30.8" y2="270.3" stroke="#000" stroke-width="1.3"/>
<text x="26.6" y="272.8" font-size="7" font-weight="bold" text-anchor="end" fill="#000">0.0</text>
<line x1="27.0" y1="230.8" x2="30.8" y2="230.8" stroke="#000" stroke-width="1.3"/>
<text x="26.6" y="233.3" font-size="7" font-weight="bold" text-anchor="end" fill="#000">0.1</text>
<line x1="27.0" y1="191.3" x2="30.8" y2="191.3" stroke="#000" stroke-width="1.3"/>
<text x="26.6" y="193.8" font-size="7" font-weight="bold" text-anchor="end" fill="#000">0.2</text>
<line x1="27.0" y1="151.8" x2="30.8" y2="151.8" stroke="#000" stroke-width="1.3"/>
<text x="26.6" y="154.3" font-size="7" font-weight="bold" text-anchor="end" fill="#000">0.3</text>
<line x1="27.0" y1="112.30000000000001" x2="30.8" y2="112.30000000000001" stroke="#000" stroke-width="1.3"/>
<text x="26.6" y="114.80000000000001" font-size="7" font-weight="bold" text-anchor="end" fill="#000">0.4</text>
<line x1="27.0" y1="72.80000000000001" x2="30.8" y2="72.80000000000001" stroke="#000" stroke-width="1.3"/>
<text x="26.6" y="75.30000000000001" font-size="7" font-weight="bold" text-anchor="end" fill="#000">0.5</text>
<line x1="27.0" y1="33.30000000000001" x2="30.8" y2="33.30000000000001" stroke="#000" stroke-width="1.3"/>
<text x="26.6" y="35.80000000000001" font-size="7" font-weight="bold" text-anchor="end" fill="#000">0.6</text>
<line x1="65" y1="270.5" x2="65" y2="274.0" stroke="#000" stroke-width="1.5"/>
<text x="65" y="279.6" font-size="7" font-weight="bold" text-anchor="middle" fill="#000">10</text>
<line x1="133.4" y1="270.5" x2="133.4" y2="274.0" stroke="#000" stroke-width="1.5"/>
<text x="133.4" y="279.6" font-size="7" font-weight="bold" text-anchor="middle" fill="#000">20</text>
<line x1="201.8" y1="270.5" x2="201.8" y2="274.0" stroke="#000" stroke-width="1.5"/>
<text x="201.8" y="279.6" font-size="7" font-weight="bold" text-anchor="middle" fill="#000">30</text>
<line x1="270.2" y1="270.5" x2="270.2" y2="274.0" stroke="#000" stroke-width="1.5"/>
<text x="270.2" y="279.6" font-size="7" font-weight="bold" text-anchor="middle" fill="#000">40</text>
<text x="167.6" y="291.5" font-size="7.6" font-weight="bold" text-anchor="middle" fill="#000">hours post invasion</text>
<text x="13.4" y="148.1" font-size="7.2" font-weight="bold" text-anchor="middle" fill="#000" transform="rotate(-90 13.4 148.1)">GU wobble (fraction)</text>
<line x1="65.0" y1="159.4" x2="65.0" y2="197.5" stroke="#111" stroke-width="1.5"/>
<line x1="42.0" y1="178.4" x2="88.0" y2="178.4" stroke="#1a1a1a" stroke-width="1.4"/>
<line x1="53.3" y1="159.4" x2="76.7" y2="159.4" stroke="#1a1a1a" stroke-width="1.4"/>
<line x1="53.3" y1="197.5" x2="76.7" y2="197.5" stroke="#1a1a1a" stroke-width="1.4"/>
<line x1="133.2" y1="153.3" x2="133.2" y2="205.6" stroke="#111" stroke-width="1.5"/>
<line x1="110.19999999999999" y1="179.5" x2="156.2" y2="179.5" stroke="#1a1a1a" stroke-width="1.4"/>
<line x1="121.49999999999999" y1="153.3" x2="144.89999999999998" y2="153.3" stroke="#1a1a1a" stroke-width="1.4"/>
<line x1="121.49999999999999" y1="205.6" x2="144.89999999999998" y2="205.6" stroke="#1a1a1a" stroke-width="1.4"/>
<line x1="201.7" y1="155.5" x2="201.7" y2="205.3" stroke="#111" stroke-width="1.5"/>
<line x1="178.7" y1="180.4" x2="224.7" y2="180.4" stroke="#1a1a1a" stroke-width="1.4"/>
<line x1="190.0" y1="155.5" x2="213.39999999999998" y2="155.5" stroke="#1a1a1a" stroke-width="1.4"/>
<line x1="190.0" y1="205.3" x2="213.39999999999998" y2="205.3" stroke="#1a1a1a" stroke-width="1.4"/>
<line x1="270.5" y1="148.3" x2="270.5" y2="202.9" stroke="#111" stroke-width="1.5"/>
<line x1="247.5" y1="175.7" x2="293.5" y2="175.7" stroke="#1a1a1a" stroke-width="1.4"/>
<line x1="258.8" y1="148.3" x2="282.2" y2="148.3" stroke="#1a1a1a" stroke-width="1.4"/>
<line x1="258.8" y1="202.9" x2="282.2" y2="202.9" stroke="#1a1a1a" stroke-width="1.4"/>
<text x="331.5" y="8" font-size="12.5" text-anchor="start" fill="#000">c</text>
<line x1="392.15000000000003" y1="60" x2="392.15000000000003" y2="37.1" stroke="#000" stroke-width="1.5"/>
<line x1="389.15000000000003" y1="37.1" x2="395.15000000000003" y2="37.1" stroke="#000" stroke-width="1.6"/>
<rect x="387.80" y="60.00" width="8.70" height="109.00" fill="#ff210c"/>
<line x1="403.45000000000005" y1="105.2" x2="403.45000000000005" y2="91.2" stroke="#000" stroke-width="1.5"/>
<line x1="400.45000000000005" y1="91.2" x2="406.45000000000005" y2="91.2" stroke="#000" stroke-width="1.6"/>
<rect x="398.90" y="105.20" width="9.10" height="63.80" fill="#0a30f4"/>
<line x1="414.65000000000003" y1="104.7" x2="414.65000000000003" y2="88.5" stroke="#000" stroke-width="1.5"/>
<line x1="411.65000000000003" y1="88.5" x2="417.65000000000003" y2="88.5" stroke="#000" stroke-width="1.6"/>
<rect x="410.10" y="104.70" width="9.10" height="64.30" fill="#08eefc"/>
<line x1="435.20000000000005" y1="67.2" x2="435.20000000000005" y2="48.8" stroke="#000" stroke-width="1.5"/>
<line x1="432.20000000000005" y1="48.8" x2="438.20000000000005" y2="48.8" stroke="#000" stroke-width="1.6"/>
<rect x="430.85" y="67.20" width="8.70" height="101.80" fill="#ff210c"/>
<line x1="446.50000000000006" y1="108" x2="446.50000000000006" y2="92.6" stroke="#000" stroke-width="1.5"/>
<line x1="443.50000000000006" y1="92.6" x2="449.50000000000006" y2="92.6" stroke="#000" stroke-width="1.6"/>
<rect x="441.95" y="108.00" width="9.10" height="61.00" fill="#0a30f4"/>
<line x1="457.70000000000005" y1="107.2" x2="457.70000000000005" y2="90.3" stroke="#000" stroke-width="1.5"/>
<line x1="454.70000000000005" y1="90.3" x2="460.70000000000005" y2="90.3" stroke="#000" stroke-width="1.6"/>
<rect x="453.15" y="107.20" width="9.10" height="61.80" fill="#08eefc"/>
<line x1="478.25" y1="64.1" x2="478.25" y2="44.9" stroke="#000" stroke-width="1.5"/>
<line x1="475.25" y1="44.9" x2="481.25" y2="44.9" stroke="#000" stroke-width="1.6"/>
<rect x="473.90" y="64.10" width="8.70" height="104.90" fill="#ff210c"/>
<line x1="489.55" y1="107" x2="489.55" y2="92.6" stroke="#000" stroke-width="1.5"/>
<line x1="486.55" y1="92.6" x2="492.55" y2="92.6" stroke="#000" stroke-width="1.6"/>
<rect x="485.00" y="107.00" width="9.10" height="62.00" fill="#0a30f4"/>
<line x1="500.75" y1="106.4" x2="500.75" y2="87.8" stroke="#000" stroke-width="1.5"/>
<line x1="497.75" y1="87.8" x2="503.75" y2="87.8" stroke="#000" stroke-width="1.6"/>
<rect x="496.20" y="106.40" width="9.10" height="62.60" fill="#08eefc"/>
<line x1="521.3000000000001" y1="108.5" x2="521.3000000000001" y2="94.2" stroke="#000" stroke-width="1.5"/>
<line x1="518.3000000000001" y1="94.2" x2="524.3000000000001" y2="94.2" stroke="#000" stroke-width="1.6"/>
<rect x="516.95" y="108.50" width="8.70" height="60.50" fill="#ff210c"/>
<line x1="532.6" y1="133.3" x2="532.6" y2="120.5" stroke="#000" stroke-width="1.5"/>
<line x1="529.6" y1="120.5" x2="535.6" y2="120.5" stroke="#000" stroke-width="1.6"/>
<rect x="528.05" y="133.30" width="9.10" height="35.70" fill="#0a30f4"/>
<line x1="543.8" y1="132" x2="543.8" y2="120" stroke="#000" stroke-width="1.5"/>
<line x1="540.8" y1="120" x2="546.8" y2="120" stroke="#000" stroke-width="1.6"/>
<rect x="539.25" y="132.00" width="9.10" height="37.00" fill="#08eefc"/>
<line x1="564.35" y1="120.1" x2="564.35" y2="100" stroke="#000" stroke-width="1.5"/>
<line x1="561.35" y1="100" x2="567.35" y2="100" stroke="#000" stroke-width="1.6"/>
<rect x="560.00" y="120.10" width="8.70" height="48.90" fill="#ff210c"/>
<line x1="575.65" y1="139.2" x2="575.65" y2="127.7" stroke="#000" stroke-width="1.5"/>
<line x1="572.65" y1="127.7" x2="578.65" y2="127.7" stroke="#000" stroke-width="1.6"/>
<rect x="571.10" y="139.20" width="9.10" height="29.80" fill="#0a30f4"/>
<line x1="586.8499999999999" y1="138.6" x2="586.8499999999999" y2="127.3" stroke="#000" stroke-width="1.5"/>
<line x1="583.8499999999999" y1="127.3" x2="589.8499999999999" y2="127.3" stroke="#000" stroke-width="1.6"/>
<rect x="582.30" y="138.60" width="9.10" height="30.40" fill="#08eefc"/>
<line x1="381.4" y1="25.0" x2="381.4" y2="170.6" stroke="#000" stroke-width="2.2"/>
<line x1="380.3" y1="169.6" x2="597" y2="169.6" stroke="#000" stroke-width="2.0"/>
<line x1="376.0" y1="168.9" x2="381.4" y2="168.9" stroke="#000" stroke-width="1.8"/>
<text x="375.5" y="172.5" font-size="10.2" font-weight="bold" text-anchor="end" fill="#000">0.0</text>
<line x1="376.0" y1="133.12" x2="381.4" y2="133.12" stroke="#000" stroke-width="1.8"/>
<text x="375.5" y="136.72" font-size="10.2" font-weight="bold" text-anchor="end" fill="#000">0.1</text>
<line x1="376.0" y1="97.34" x2="381.4" y2="97.34" stroke="#000" stroke-width="1.8"/>
<text x="375.5" y="100.94" font-size="10.2" font-weight="bold" text-anchor="end" fill="#000">0.2</text>
<line x1="376.0" y1="61.56" x2="381.4" y2="61.56" stroke="#000" stroke-width="1.8"/>
<text x="375.5" y="65.16" font-size="10.2" font-weight="bold" text-anchor="end" fill="#000">0.3</text>
<line x1="376.0" y1="25.78" x2="381.4" y2="25.78" stroke="#000" stroke-width="1.8"/>
<text x="375.5" y="29.380000000000003" font-size="10.2" font-weight="bold" text-anchor="end" fill="#000">0.4</text>
<line x1="403.45" y1="170.4" x2="403.45" y2="174.5" stroke="#000" stroke-width="2.0"/>
<text x="405.95" y="182.5" font-size="11" font-weight="bold" font-style="italic" text-anchor="end" fill="#000" transform="rotate(-45 405.95 182.5)">P.f</text>
<line x1="446.5" y1="170.4" x2="446.5" y2="174.5" stroke="#000" stroke-width="2.0"/>
<text x="449.0" y="182.5" font-size="11" font-weight="bold" font-style="italic" text-anchor="end" fill="#000" transform="rotate(-45 449.0 182.5)">P.b</text>
<line x1="489.54999999999995" y1="170.4" x2="489.54999999999995" y2="174.5" stroke="#000" stroke-width="2.0"/>
<text x="492.04999999999995" y="182.5" font-size="11" font-weight="bold" font-style="italic" text-anchor="end" fill="#000" transform="rotate(-45 492.04999999999995 182.5)">P.y</text>
<line x1="532.5999999999999" y1="170.4" x2="532.5999999999999" y2="174.5" stroke="#000" stroke-width="2.0"/>
<text x="535.0999999999999" y="182.5" font-size="11" font-weight="bold" font-style="italic" text-anchor="end" fill="#000" transform="rotate(-45 535.0999999999999 182.5)">P.k</text>
<line x1="575.65" y1="170.4" x2="575.65" y2="174.5" stroke="#000" stroke-width="2.0"/>
<text x="578.15" y="182.5" font-size="11" font-weight="bold" font-style="italic" text-anchor="end" fill="#000" transform="rotate(-45 578.15 182.5)">P.v</text>
<text x="355.2" y="97.5" font-size="11.15" font-weight="bold" text-anchor="middle" fill="#000" transform="rotate(-90 355.2 97.5)">GU wobble (fraction)</text>
<rect x="605.10" y="60.10" width="14.90" height="7.50" fill="#ff210c"/>
<text x="629.0" y="67.4" font-size="11.6" text-anchor="start" fill="#000">Genome</text>
<rect x="605.10" y="76.50" width="14.90" height="7.50" fill="#0a30f4"/>
<text x="629.0" y="84.6" font-size="11.6" text-anchor="start" fill="#000">40S</text>
<rect x="605.10" y="93.50" width="14.90" height="7.50" fill="#08eefc"/>
<text x="629.0" y="101.4" font-size="11.6" text-anchor="start" fill="#000">60S</text>
<rect x="379.6" y="201.6" width="215.6" height="49.7" fill="none" stroke="#8a8a8a" stroke-width="1"/>
<line x1="376.6" y1="208.2" x2="379.6" y2="208.2" stroke="#8a8a8a" stroke-width="1"/>
<text x="376.0" y="211.7" font-size="10" font-weight="bold" text-anchor="end" fill="#000">80</text>
<line x1="376.6" y1="237.3" x2="379.6" y2="237.3" stroke="#8a8a8a" stroke-width="1"/>
<text x="376.0" y="240.8" font-size="10" font-weight="bold" text-anchor="end" fill="#000">60</text>
<polyline points="401,207.5 444,212 487.3,213.2 530,236.5 573.5,244.3" fill="none" stroke="#000" stroke-width="1.5"/>
<circle cx="401" cy="207.5" r="2.7" fill="#000"/>
<rect x="441.40" y="209.40" width="5.20" height="5.20" fill="#000"/>
<path d="M487.3 210.0L490.6 215.5L484.0 215.5Z" fill="#000"/>
<path d="M530 239.5L533.3 234.0L526.7 234.0Z" fill="#000"/>
<path d="M573.5 241.10000000000002L576.7 244.3L573.5 247.5L570.3 244.3Z" fill="#000"/>
<line x1="401.0" y1="251.3" x2="401.0" y2="255.4" stroke="#8a8a8a" stroke-width="1"/>
<text x="403.5" y="263" font-size="11" font-weight="bold" font-style="italic" text-anchor="end" fill="#000" transform="rotate(-45 403.5 263)">P.f</text>
<line x1="444.05" y1="251.3" x2="444.05" y2="255.4" stroke="#8a8a8a" stroke-width="1"/>
<text x="446.55" y="263" font-size="11" font-weight="bold" font-style="italic" text-anchor="end" fill="#000" transform="rotate(-45 446.55 263)">P.b</text>
<line x1="487.1" y1="251.3" x2="487.1" y2="255.4" stroke="#8a8a8a" stroke-width="1"/>
<text x="489.6" y="263" font-size="11" font-weight="bold" font-style="italic" text-anchor="end" fill="#000" transform="rotate(-45 489.6 263)">P.y</text>
<line x1="530.15" y1="251.3" x2="530.15" y2="255.4" stroke="#8a8a8a" stroke-width="1"/>
<text x="532.65" y="263" font-size="11" font-weight="bold" font-style="italic" text-anchor="end" fill="#000" transform="rotate(-45 532.65 263)">P.k</text>
<line x1="573.2" y1="251.3" x2="573.2" y2="255.4" stroke="#8a8a8a" stroke-width="1"/>
<text x="575.7" y="263" font-size="11" font-weight="bold" font-style="italic" text-anchor="end" fill="#000" transform="rotate(-45 575.7 263)">P.v</text>
<text x="487" y="291.3" font-size="11.45" font-weight="bold" text-anchor="middle" fill="#000">Genome A+T content (%)</text>
<text x="1.2" y="345" font-size="12.5" text-anchor="start" fill="#000">b</text>
<text x="197.9" y="368.9" font-size="10" font-weight="bold" text-anchor="middle" fill="#000">Codon usage frequency</text>
<text x="197.9" y="380.6" font-size="10" font-weight="bold" text-anchor="middle" fill="#000">GU wobble (%)</text>
<text x="310.1" y="368.9" font-size="10" font-weight="bold" text-anchor="middle" fill="#000">Difference relative</text>
<text x="310.1" y="380.6" font-size="10" font-weight="bold" text-anchor="middle" fill="#000">to genome (%)</text>
<text x="419.4" y="368.9" font-size="10" font-weight="bold" text-anchor="middle" fill="#000">Codon usage frequency</text>
<text x="419.4" y="380.6" font-size="10" font-weight="bold" text-anchor="middle" fill="#000">non GU wobble (%)</text>
<text x="529.0" y="368.9" font-size="10" font-weight="bold" text-anchor="middle" fill="#000">Difference relative</text>
<text x="529.0" y="380.6" font-size="10" font-weight="bold" text-anchor="middle" fill="#000">to genome (%)</text>
<text x="611.6" y="368.9" font-size="10" font-weight="bold" text-anchor="middle" fill="#000">Total codon</text>
<text x="611.6" y="380.6" font-size="10" font-weight="bold" text-anchor="middle" fill="#000">count</text>
<line x1="13.9" y1="390.4" x2="646.1" y2="390.4" stroke="#111" stroke-width="1.2"/>
<text x="15.6" y="402.9" font-size="10" font-weight="bold" text-anchor="start" fill="#000"><tspan font-style="italic">P.falciparum</tspan> genome</text>
<text x="197.9" y="402.9" font-size="10" text-anchor="middle" fill="#000">33.4</text>
<text x="310.1" y="402.9" font-size="10" text-anchor="middle" fill="#000">0</text>
<text x="419.4" y="402.9" font-size="10" text-anchor="middle" fill="#000">3.2</text>
<text x="529.0" y="402.9" font-size="10" text-anchor="middle" fill="#000">0</text>
<text x="611.6" y="402.9" font-size="10" text-anchor="middle" fill="#000">2993721</text>
<text x="15.6" y="417.29999999999995" font-size="10" font-weight="bold" text-anchor="start" fill="#000">Top 5% genes (10 hpi)</text>
<text x="197.9" y="417.29999999999995" font-size="10" text-anchor="middle" fill="#000">24.3</text>
<text x="310.1" y="417.29999999999995" font-size="10" text-anchor="middle" fill="#000">-27.2</text>
<text x="419.4" y="417.29999999999995" font-size="10" text-anchor="middle" fill="#000">3.6</text>
<text x="529.0" y="417.29999999999995" font-size="10" text-anchor="middle" fill="#000">+12.5</text>
<text x="611.6" y="417.29999999999995" font-size="10" text-anchor="middle" fill="#000">99059</text>
<text x="15.6" y="431.7" font-size="10" font-weight="bold" text-anchor="start" fill="#000">Top 5% genes (20 hpi)</text>
<text x="197.9" y="431.7" font-size="10" text-anchor="middle" fill="#000">25.7</text>
<text x="310.1" y="431.7" font-size="10" text-anchor="middle" fill="#000">-23.1</text>
<text x="419.4" y="431.7" font-size="10" text-anchor="middle" fill="#000">3.7</text>
<text x="529.0" y="431.7" font-size="10" text-anchor="middle" fill="#000">+15.6</text>
<text x="611.6" y="431.7" font-size="10" text-anchor="middle" fill="#000">98191</text>
<text x="15.6" y="446.09999999999997" font-size="10" font-weight="bold" text-anchor="start" fill="#000">Top 5% genes (30 hpi)</text>
<text x="197.9" y="446.09999999999997" font-size="10" text-anchor="middle" fill="#000">24.2</text>
<text x="310.1" y="446.09999999999997" font-size="10" text-anchor="middle" fill="#000">-27.5</text>
<text x="419.4" y="446.09999999999997" font-size="10" text-anchor="middle" fill="#000">4.1</text>
<text x="529.0" y="446.09999999999997" font-size="10" text-anchor="middle" fill="#000">+28.1</text>
<text x="611.6" y="446.09999999999997" font-size="10" text-anchor="middle" fill="#000">78345</text>
<text x="15.6" y="460.5" font-size="10" font-weight="bold" text-anchor="start" fill="#000">Top 5% genes (40 hpi)</text>
<text x="197.9" y="460.5" font-size="10" text-anchor="middle" fill="#000">26</text>
<text x="310.1" y="460.5" font-size="10" text-anchor="middle" fill="#000">-22.2</text>
<text x="419.4" y="460.5" font-size="10" text-anchor="middle" fill="#000">3.8</text>
<text x="529.0" y="460.5" font-size="10" text-anchor="middle" fill="#000">+18.8</text>
<text x="611.6" y="460.5" font-size="10" text-anchor="middle" fill="#000">100149</text></svg>
</body></html>
